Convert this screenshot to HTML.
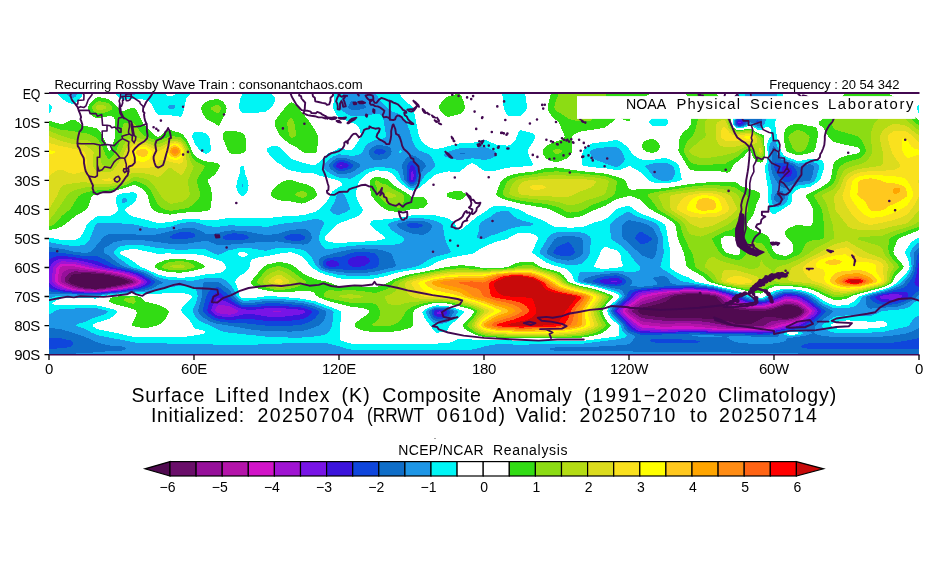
<!DOCTYPE html>
<html lang="en"><head><meta charset="utf-8"><title>Surface Lifted Index Composite Anomaly</title>
<style>
html,body{margin:0;padding:0;background:#fff;overflow:hidden}
body{width:930px;height:580px;position:relative;overflow:hidden;font-family:"Liberation Sans",sans-serif;color:#000}
svg{position:absolute;left:0;top:0}
#tx{position:absolute;left:0;top:0;width:930px;height:580px;will-change:transform;opacity:.999}
.t{position:absolute;white-space:nowrap;line-height:1;margin:0;padding:0}
.s{font-size:13.1px}
.y{font-size:15px;width:40px;text-align:right;left:0;letter-spacing:-0.3px}
.x{font-size:15px;width:60px;text-align:center;letter-spacing:-0.3px}
.w{left:0;width:930px;height:1em}
.w span{position:absolute;top:0}
.c{font-size:14px;width:40px;text-align:center}
</style></head><body>
<svg width="930" height="580" viewBox="0 0 930 580">
<defs><clipPath id="m"><rect x="49" y="93" width="870" height="262"/></clipPath></defs>
<g clip-path="url(#m)" shape-rendering="crispEdges">
<path fill="#32dc14" d="M456.0,94.2 459.0,93.5 460.0,94.1 461.5,96.3 463.2,100.3 464.6,105.3 464.9,107.3 464.4,109.3 462.2,112.3 460.0,113.9 449.0,116.9 447.0,116.7 443.9,114.3 440.0,110.3 438.8,108.3 438.9,106.3 441.9,101.3 446.0,97.4 449.0,96.0ZM551.0,93.3 651.4,93.3 645.5,96.3 642.0,99.4 640.2,102.3 637.6,108.3 630.0,120.1 629.0,121.1 628.0,121.2 620.0,118.2 617.0,117.9 615.0,119.1 609.7,124.3 605.0,127.5 601.0,128.4 581.0,131.4 578.0,132.4 574.5,134.3 573.0,135.6 572.0,137.3 572.2,150.3 571.8,152.3 570.0,155.7 569.0,157.0 567.0,158.4 558.0,162.0 556.0,162.3 551.0,160.9 546.0,158.3 544.0,155.8 542.5,152.3 542.5,151.3 543.2,149.3 546.0,146.2 553.0,142.5 562.1,139.3 564.0,138.0 564.8,136.3 559.2,123.3 557.5,121.3 551.9,116.3 549.7,113.3 547.7,109.3 547.6,106.3ZM686.0,93.3 716.0,93.3 718.4,96.3 725.0,102.1 726.5,104.3 730.1,113.3 730.5,116.3 730.8,123.3 732.1,126.3 734.0,128.2 737.0,129.8 739.0,130.1 742.0,129.9 748.0,128.6 751.0,128.8 758.0,133.1 763.0,134.7 764.0,135.8 764.5,137.3 764.4,145.3 765.2,152.3 764.5,157.3 762.9,161.3 762.0,162.3 760.0,162.7 756.0,161.1 753.4,158.3 751.0,151.9 750.0,151.0 749.0,150.9 746.8,152.3 744.9,155.3 743.0,157.3 734.1,164.3 732.6,166.3 730.3,171.3 728.0,172.6 726.0,172.6 718.0,171.0 713.0,170.5 701.0,171.1 696.0,170.9 691.0,170.0 689.0,168.8 679.1,152.3 678.4,150.3 678.9,142.3 679.8,137.3 682.6,133.3 689.0,127.1 690.7,124.3 691.4,122.3 691.5,110.3 691.1,106.3 689.6,101.3 685.7,93.3ZM844.0,93.8 844.2,93.3 887.7,93.3 890.0,94.7 897.0,97.7 903.7,102.3 906.0,104.5 909.0,109.3 915.5,117.3 919.0,120.5 919.0,230.3 900.9,237.3 898.0,239.3 896.8,241.3 894.0,248.5 893.4,251.3 893.6,253.3 894.8,255.3 902.3,264.3 903.5,266.3 903.6,267.3 903.0,268.3 896.0,275.4 892.0,282.4 889.0,284.7 884.0,287.0 853.7,295.3 846.0,299.0 837.0,300.1 834.0,300.0 825.0,296.1 818.0,292.2 813.0,290.0 808.0,288.5 799.0,286.9 786.0,286.0 774.0,286.5 769.0,288.6 763.0,292.8 761.0,293.7 750.0,292.0 743.0,289.9 725.0,286.3 710.4,282.3 708.1,281.3 702.4,276.3 688.6,268.3 686.5,266.3 684.0,253.3 678.0,239.3 675.4,225.3 674.2,223.3 666.0,217.5 650.2,209.3 643.2,202.3 640.0,199.7 633.0,196.8 629.0,195.9 617.0,198.9 605.0,205.8 593.0,210.6 582.0,216.1 579.0,216.9 569.0,218.2 567.0,217.8 563.1,216.3 551.9,210.3 546.1,208.3 520.0,203.5 506.0,200.1 499.5,197.3 496.9,195.3 496.4,194.3 496.5,193.3 498.5,187.3 501.0,181.3 503.0,179.1 507.8,176.3 513.0,174.6 519.0,173.2 534.0,171.5 545.0,168.2 555.0,167.4 558.0,167.6 580.0,171.0 604.0,173.4 610.0,174.8 621.0,178.0 624.0,179.3 625.9,181.3 627.6,186.3 628.7,188.3 630.0,189.4 631.0,189.6 653.0,189.2 665.0,188.1 690.0,184.1 702.0,182.7 714.0,182.1 725.0,182.2 731.0,181.6 734.0,181.9 737.0,183.0 741.0,185.9 743.0,186.9 756.0,190.9 759.0,192.6 760.4,194.3 760.3,196.3 757.2,202.3 753.8,213.3 752.1,216.3 747.2,223.3 747.1,225.3 748.0,227.0 751.0,229.3 764.0,233.8 768.0,236.3 769.9,239.3 770.8,244.3 772.1,248.3 774.0,251.6 775.9,253.3 778.0,254.3 781.7,255.3 785.0,255.7 787.0,255.5 790.0,254.2 792.5,252.3 793.1,250.3 793.3,247.3 792.8,244.3 791.9,242.3 790.3,240.3 786.9,237.3 785.4,235.3 785.0,232.3 786.0,230.0 787.0,229.0 789.0,227.8 797.0,224.9 800.0,224.9 808.0,226.5 810.0,226.4 811.5,225.3 812.6,223.3 813.5,212.3 813.3,209.3 809.4,202.3 806.1,197.3 805.6,196.3 805.7,195.3 807.0,194.3 812.0,192.3 818.0,189.1 826.0,184.1 829.5,181.3 831.0,178.3 833.1,165.3 834.0,163.0 836.0,160.6 840.0,158.1 845.0,155.9 858.0,153.4 859.6,152.3 860.1,151.3 860.1,150.3 859.0,148.4 857.0,147.0 846.0,145.0 836.0,142.6 833.0,141.4 830.4,139.3 828.7,137.3 823.0,127.6 822.0,126.6 819.4,125.3 818.7,124.3 818.9,122.3 819.6,121.3 824.0,117.9 833.0,107.0 840.0,99.7ZM724.4,236.3 721.3,238.3 720.7,240.3 721.9,246.3 724.0,250.4 726.0,252.3 730.0,254.0 737.0,255.2 739.0,254.5 740.4,252.3 740.5,248.3 739.7,243.3 738.0,240.0 735.0,237.4 732.1,236.3 727.0,235.7ZM98.0,97.1 104.0,98.0 109.0,99.4 112.0,101.7 116.9,106.3 120.0,110.5 121.0,111.2 123.0,111.2 132.0,107.7 134.0,107.7 135.3,108.3 137.0,110.6 143.0,123.3 153.5,134.3 156.0,136.3 158.0,136.8 159.6,136.3 166.6,131.3 170.0,130.0 180.0,132.9 182.0,133.8 184.0,135.9 187.8,141.3 193.0,153.2 195.0,156.0 199.0,158.6 205.0,161.3 215.0,162.6 217.4,163.3 218.9,164.3 219.5,165.3 219.5,167.3 217.6,171.3 214.0,175.2 208.5,179.3 207.7,180.3 207.6,181.3 210.5,187.3 212.0,194.3 211.1,207.3 210.0,209.3 208.0,210.5 205.0,211.3 183.0,212.7 170.0,214.6 165.0,214.0 158.0,212.5 153.4,210.3 151.3,208.3 149.5,203.3 147.7,195.3 145.0,191.4 142.0,188.7 139.0,186.8 135.0,185.1 133.0,185.0 126.0,187.6 110.0,192.0 98.0,193.7 93.2,195.3 91.5,197.3 87.5,208.3 85.7,210.3 76.0,215.6 65.3,224.3 62.2,226.3 57.0,228.5 49.0,230.1 49.0,121.0 52.0,121.4 61.0,124.3 64.9,123.3 72.0,119.6 74.0,119.6 76.0,120.6 80.9,124.3 84.0,125.8 94.0,127.7 97.0,128.6 99.0,130.3 101.0,133.1 105.5,142.3 108.0,148.9 109.0,150.7 110.0,150.8 111.0,149.3 115.4,136.3 115.4,122.3 114.4,118.3 113.0,116.8 110.0,116.0 99.0,118.2 96.0,118.1 93.0,116.6 91.0,115.0 89.1,112.3 88.0,109.3 88.3,106.3 90.7,102.3 95.0,98.4ZM216.0,99.2 219.0,99.3 223.0,101.7 225.8,105.3 226.6,108.3 225.6,112.3 223.5,117.3 219.1,125.3 218.0,125.7 214.4,123.3 208.0,120.2 206.0,118.8 203.0,114.2 201.5,110.3 201.1,108.3 202.5,105.3 206.0,101.7 209.0,100.6ZM289.0,103.2 291.0,102.4 292.0,102.5 295.0,104.1 297.0,105.8 301.7,112.3 308.0,119.4 316.4,132.3 318.0,136.3 318.0,139.3 317.2,150.3 316.1,152.3 315.0,153.2 312.0,153.4 304.0,152.5 302.0,151.8 297.0,147.4 290.0,144.1 282.3,138.3 280.3,136.3 277.4,131.3 274.6,124.3 274.5,122.3 274.8,121.3 278.0,116.4 282.4,111.3 286.0,106.3ZM809.0,104.0 810.0,104.1 811.0,105.2 811.8,107.3 811.4,110.3 810.0,112.1 808.0,112.3 805.0,111.7 802.0,110.6 800.3,109.3 800.2,108.3 801.5,107.3ZM794.0,124.3 797.0,123.7 800.0,123.7 810.0,126.2 815.0,126.8 817.0,127.8 817.6,131.3 817.6,137.3 815.2,149.3 814.0,151.3 810.0,153.0 799.0,155.5 797.0,155.3 788.4,152.3 786.6,151.3 785.7,149.3 783.6,137.3 784.4,132.3 785.9,128.3 787.0,126.9 789.0,125.8ZM226.0,131.1 230.0,130.5 235.7,131.3 241.0,132.4 244.0,134.4 245.3,136.3 245.8,139.3 245.7,150.3 244.4,152.3 243.0,153.1 241.0,153.6 233.0,153.7 231.0,153.6 229.0,152.4 227.4,149.3 222.6,137.3 222.6,135.3 223.2,133.3 224.0,132.2ZM650.0,139.2 653.0,139.1 655.0,139.8 657.2,141.3 659.0,143.3 659.7,145.3 659.7,147.3 659.0,149.3 657.2,151.3 654.0,152.7 651.0,152.7 645.5,151.3 643.1,149.3 642.2,147.3 642.0,145.3 643.0,142.5 646.0,140.3ZM374.0,177.2 377.0,176.7 387.0,179.0 393.8,185.3 408.5,194.3 412.0,197.5 420.0,196.6 422.0,196.8 424.0,197.6 426.0,199.3 427.3,201.3 427.6,203.3 427.3,204.3 425.0,207.0 422.0,208.3 412.0,209.0 400.0,212.0 397.0,212.0 391.0,211.1 388.0,210.4 385.3,209.3 382.0,207.1 377.8,203.3 372.5,197.3 370.8,194.3 370.2,188.3 370.0,181.3 371.2,179.3ZM287.0,180.2 290.0,179.7 292.0,180.0 299.0,182.5 306.2,184.3 311.0,186.3 313.0,187.6 315.0,189.6 316.8,193.3 316.8,195.3 315.0,197.5 312.0,199.5 305.0,202.9 302.0,203.6 290.0,201.4 279.0,200.3 275.0,198.8 271.3,196.3 270.5,195.3 270.5,193.3 272.4,190.3 275.0,187.2 280.0,183.3 283.7,181.3ZM455.0,191.2 459.0,190.9 461.2,191.3 465.0,193.3 465.9,194.3 466.1,195.3 465.0,197.0 463.0,198.6 461.0,199.7 459.0,200.1 450.0,198.0 447.1,196.3 446.6,195.3 446.7,194.3 448.0,192.8 450.0,192.0ZM170.0,259.2 183.0,259.1 193.0,260.3 196.4,261.3 201.0,263.3 205.1,266.3 205.0,267.3 201.0,268.9 193.0,270.8 184.0,272.4 180.0,272.6 171.0,272.4 168.0,272.0 158.0,269.4 154.9,267.3 154.7,266.3 155.2,265.3 158.0,263.0 164.0,260.5ZM277.0,262.2 281.0,262.1 290.0,263.8 293.0,265.5 303.0,273.3 309.0,276.5 316.0,279.3 328.0,282.0 337.0,285.6 340.0,286.1 362.0,286.5 374.0,287.4 377.0,287.0 385.0,284.1 393.7,279.3 404.0,275.7 411.0,274.0 424.0,271.8 448.0,266.7 461.0,265.2 471.0,265.9 484.0,268.1 500.0,268.0 507.0,267.2 510.0,266.3 515.0,263.5 520.0,262.1 528.0,261.6 532.0,261.8 534.0,262.6 539.5,266.3 543.0,267.9 555.0,270.7 560.0,272.7 563.6,275.3 567.9,281.3 570.0,282.7 579.0,285.5 595.0,289.1 609.0,294.1 612.0,295.6 612.8,296.3 612.8,297.3 607.2,303.3 603.1,309.3 602.4,311.3 602.9,313.3 605.3,318.3 607.2,321.3 610.5,325.3 610.5,326.3 609.0,327.9 603.4,332.3 600.0,334.0 593.0,335.8 581.0,337.7 543.0,338.3 497.0,337.6 483.0,336.7 476.0,335.0 468.4,331.3 465.0,329.1 462.6,326.3 462.5,325.3 463.7,323.3 471.0,316.2 473.4,313.3 474.0,312.3 474.1,311.3 473.2,310.3 467.6,308.3 450.0,303.9 446.0,303.3 436.0,302.9 429.0,304.1 421.0,306.5 416.8,308.3 414.2,310.3 413.6,311.3 413.2,313.3 413.4,324.3 412.5,326.3 410.0,327.9 400.0,330.7 388.0,332.2 375.0,332.2 364.0,330.9 361.0,330.0 357.4,328.3 354.9,326.3 354.5,325.3 355.4,323.3 357.5,321.3 366.0,315.3 369.0,312.3 369.2,311.3 368.6,310.3 366.0,308.9 362.0,307.9 351.0,306.9 327.0,300.6 318.7,297.3 316.0,295.3 314.0,292.7 311.0,291.5 303.0,290.6 290.0,292.0 277.0,292.2 263.0,289.8 259.0,288.8 255.6,287.3 251.8,284.3 250.7,282.3 251.0,281.3 263.0,267.1 267.0,264.6ZM119.0,296.3 133.0,295.5 138.0,296.3 140.3,297.3 144.0,300.7 146.0,301.8 158.0,304.8 165.0,307.9 168.4,310.3 168.9,311.3 168.6,313.3 166.5,317.3 163.2,321.3 161.0,323.3 157.2,325.3 151.0,327.2 146.0,328.1 139.0,327.4 133.7,326.3 132.1,325.3 131.8,324.3 135.1,318.3 136.3,315.3 136.9,312.3 135.9,310.3 130.0,307.9 120.0,305.6 112.1,303.3 110.1,302.3 109.3,301.3 109.2,300.3 110.1,298.3 112.3,297.3Z"/>
<path fill="#8cdc14" d="M559.0,93.3 606.9,93.3 606.0,96.1 604.8,104.3 604.1,106.3 602.5,107.3 596.0,108.5 594.0,109.4 593.3,111.3 592.1,119.3 591.6,120.3 588.0,121.2 582.0,121.6 579.2,121.3 569.0,119.2 563.7,115.3 557.0,111.4 555.7,110.3 554.4,108.3 554.3,106.3 556.0,100.6ZM99.0,101.3 105.0,102.1 109.0,103.7 110.9,105.3 112.2,107.3 112.2,108.3 111.8,109.3 109.0,111.3 104.0,112.9 99.0,113.5 96.0,112.9 93.1,110.3 92.2,108.3 92.1,107.3 93.0,105.3 95.0,103.0 97.0,101.6ZM710.0,103.3 712.0,103.2 714.0,103.7 719.1,107.3 724.0,109.5 726.0,110.9 728.2,115.3 729.4,122.3 730.3,125.3 732.0,127.8 734.0,129.5 737.0,130.9 739.0,131.1 748.0,129.9 751.0,130.2 757.0,134.1 761.0,136.2 762.0,137.1 762.8,139.3 764.2,151.3 763.4,156.3 762.0,159.1 761.0,159.6 760.0,159.4 758.0,158.3 755.3,155.3 752.7,150.3 751.0,148.7 749.0,148.3 744.1,150.3 738.0,156.3 725.0,163.9 714.0,164.4 701.0,165.5 694.0,163.8 690.0,161.9 688.0,159.2 684.1,152.3 683.8,150.3 684.6,147.3 687.0,142.0 692.2,136.3 694.5,132.3 696.1,127.3 698.9,114.3 700.0,111.1 702.0,107.3 704.0,104.9 706.0,104.0ZM881.0,103.3 884.0,103.2 893.0,104.4 896.0,105.5 901.0,109.5 907.0,113.5 915.0,122.3 919.0,125.5 919.0,226.7 897.0,234.6 891.2,237.3 889.0,239.3 888.6,241.3 888.4,249.3 888.8,253.3 890.6,256.3 897.4,264.3 898.6,266.3 898.7,267.3 898.3,268.3 894.6,272.3 893.2,274.3 890.7,281.3 890.0,282.3 887.3,284.3 884.0,285.9 852.3,294.3 846.0,296.3 835.0,297.4 832.0,296.5 815.0,288.7 809.0,287.0 801.0,285.7 787.0,284.7 774.0,284.4 768.0,286.3 761.0,290.0 751.0,289.9 726.0,285.5 715.3,282.3 712.3,280.3 709.9,277.3 706.6,274.3 698.3,269.3 695.7,267.3 694.9,265.3 692.8,254.3 689.0,247.7 683.8,236.3 682.0,231.4 680.3,225.3 679.2,223.3 670.0,216.6 657.7,209.3 653.0,202.1 647.8,196.3 647.5,195.3 648.4,194.3 651.0,193.3 657.0,191.9 689.0,186.9 700.0,185.6 715.0,185.2 730.0,186.2 735.0,187.5 745.9,194.3 746.9,195.3 747.8,197.3 748.2,200.3 748.5,209.3 747.2,212.3 744.0,217.3 735.0,227.6 732.0,229.4 723.0,232.3 715.4,236.3 712.5,238.3 712.1,239.3 712.4,240.3 719.4,252.3 722.0,254.8 726.0,257.0 736.0,259.9 739.0,259.9 742.5,258.3 745.0,255.7 746.1,253.3 748.0,245.9 749.0,243.8 750.0,242.7 752.0,242.3 760.0,242.7 762.0,243.3 764.0,245.3 770.1,255.3 772.0,257.5 774.0,258.9 777.0,259.6 784.0,259.9 786.0,259.8 789.0,258.8 797.3,255.3 800.6,253.3 802.0,251.3 804.6,245.3 806.0,243.6 808.0,242.0 812.0,240.5 821.8,239.3 823.5,238.3 824.1,237.3 824.0,224.3 822.2,210.3 821.4,208.3 814.6,197.3 814.3,196.3 814.4,195.3 816.9,193.3 829.0,186.8 833.3,183.3 835.3,180.3 836.8,173.3 838.0,169.7 839.4,167.3 841.3,165.3 847.0,161.9 859.0,158.8 863.0,155.8 865.6,152.3 865.9,151.3 865.7,149.3 864.0,144.4 861.7,140.3 859.0,137.3 856.0,135.7 836.0,130.0 834.0,128.4 831.5,124.3 831.0,122.3 831.4,121.3 834.0,118.3 841.0,113.9 847.0,108.3 849.0,107.9 870.0,107.3 876.0,104.4ZM216.0,105.1 218.0,105.0 218.8,105.3 220.7,107.3 220.9,108.3 220.3,110.3 219.0,112.3 218.0,113.1 217.0,113.2 214.0,111.5 211.1,109.3 210.7,108.3 211.2,107.3 212.0,106.8ZM290.0,117.9 291.0,117.6 292.0,118.5 294.3,122.3 296.2,134.3 295.7,136.3 293.9,137.3 292.0,137.7 290.0,137.0 289.0,135.3 287.1,123.3 287.6,121.3ZM124.0,123.2 131.0,122.4 133.0,122.8 135.0,124.7 140.1,131.3 144.1,135.3 148.0,137.3 157.0,140.5 160.0,140.2 169.0,136.5 171.0,136.0 179.0,137.0 181.0,137.6 183.3,139.3 185.7,142.3 187.4,145.3 189.6,150.3 191.7,156.3 193.3,159.3 196.0,161.6 203.4,165.3 204.5,166.3 204.6,167.3 204.0,168.3 199.5,175.3 197.1,180.3 197.6,184.3 200.3,194.3 200.0,196.3 198.0,199.8 193.0,205.0 189.0,207.4 185.0,208.5 172.0,210.6 170.0,210.7 167.4,210.3 162.4,208.3 158.0,204.6 155.9,201.3 152.0,192.6 149.7,189.3 146.8,186.3 144.1,184.3 141.0,182.8 136.0,181.3 134.0,181.1 127.0,184.5 121.0,186.6 109.0,189.5 97.0,190.5 91.0,191.3 86.0,192.5 81.3,194.3 78.6,196.3 70.0,209.3 62.0,215.9 55.8,223.3 52.4,225.3 49.0,226.4 49.0,126.0 61.0,130.0 71.0,130.7 78.0,132.1 86.0,133.2 90.0,134.6 95.0,137.1 97.0,138.5 99.3,141.3 102.6,147.3 106.0,155.8 107.8,158.3 109.0,159.0 110.0,158.7 111.0,157.8 115.2,152.3 116.3,150.3 121.7,136.3 122.7,125.3 123.0,124.0ZM797.0,130.2 800.0,130.3 804.3,132.3 808.5,135.3 809.6,137.3 809.4,139.3 808.1,143.3 805.3,149.3 804.2,150.3 802.3,151.3 799.0,152.2 795.6,151.3 793.3,149.3 790.0,142.3 788.4,137.3 789.3,135.3 791.0,133.7 794.0,131.6ZM556.0,149.0 558.0,148.9 559.9,149.3 562.1,150.3 562.6,151.3 561.6,152.3 559.6,153.3 557.0,154.1 556.0,154.0 554.0,152.9 553.3,152.3 553.0,151.3 553.6,150.3ZM544.0,172.2 557.0,171.3 596.0,175.1 604.0,176.0 607.0,176.8 614.0,179.3 615.7,180.3 616.5,181.3 616.6,184.3 615.1,193.3 613.6,195.3 606.0,199.8 592.0,204.9 582.0,210.8 579.0,211.6 570.0,212.6 567.0,212.0 560.0,208.0 555.0,206.1 545.0,203.9 532.0,202.4 519.0,200.4 507.0,197.4 504.0,195.8 502.7,194.3 503.2,191.3 505.8,184.3 507.5,181.3 510.2,179.3 515.0,177.4 520.0,176.0 534.0,174.3ZM376.0,180.3 378.8,181.3 382.0,183.6 387.0,184.8 392.0,188.5 400.0,192.2 404.2,195.3 404.5,197.3 403.7,201.3 402.1,205.3 400.8,207.3 399.0,208.1 398.0,207.9 393.0,205.9 388.0,204.6 385.0,202.8 381.0,199.0 378.8,196.3 377.8,194.3 376.8,188.3 374.7,182.3 375.0,180.9ZM301.0,191.0 303.0,191.0 305.6,192.3 307.4,194.3 307.3,195.3 304.5,197.3 302.0,197.9 298.0,196.6 295.6,195.3 295.2,194.3 295.9,193.3 298.0,192.1ZM178.0,261.3 183.0,261.4 188.2,262.3 192.9,264.3 194.7,266.3 194.1,267.3 192.0,268.3 187.0,269.6 181.0,270.4 170.0,270.1 164.0,268.5 161.9,267.3 161.9,266.3 162.9,265.3 168.0,262.5 171.0,261.8ZM524.0,265.3 532.0,265.3 542.3,269.3 555.0,272.7 560.0,275.3 562.2,277.3 565.4,281.3 568.3,283.3 577.0,286.0 594.0,290.1 605.2,294.3 609.0,296.3 609.2,297.3 608.6,298.3 600.9,308.3 599.3,311.3 599.8,313.3 601.0,316.0 605.5,324.3 605.8,325.3 605.4,326.3 600.0,330.5 595.0,333.0 588.0,334.9 580.0,336.2 557.0,337.1 533.0,337.1 497.0,336.5 484.0,335.4 479.8,334.3 476.0,332.7 469.0,327.7 467.6,326.3 467.3,325.3 467.7,324.3 472.0,319.6 477.3,312.3 477.5,311.3 476.8,310.3 471.0,307.6 456.0,303.7 448.0,302.2 436.0,301.5 429.4,302.3 419.3,304.3 413.5,306.3 406.7,310.3 405.1,312.3 403.0,316.7 400.7,320.3 399.0,322.0 395.0,324.3 392.4,325.3 387.0,326.5 375.0,326.3 372.3,325.3 372.3,324.3 376.3,321.3 378.2,319.3 379.5,316.3 380.2,312.3 379.9,310.3 378.9,308.3 377.0,305.8 375.0,304.0 373.0,303.4 367.0,302.9 350.0,302.7 328.0,298.2 325.5,297.3 324.1,296.3 323.6,295.3 323.8,294.3 325.0,292.2 326.0,291.2 328.0,290.4 339.0,290.6 352.0,290.2 363.0,291.1 374.0,292.9 376.0,292.9 387.0,289.3 390.0,287.2 393.3,283.3 395.7,281.3 403.0,278.3 413.0,275.5 447.0,269.1 460.0,268.2 472.0,268.6 484.0,269.6 499.0,269.2 509.6,268.3 514.9,267.3 520.0,265.7ZM277.0,266.3 279.0,266.1 282.0,266.7 290.0,269.7 302.0,278.8 306.0,281.3 306.6,282.3 305.7,283.3 296.0,287.4 287.1,289.3 279.0,290.2 273.0,289.3 265.0,287.2 260.6,285.3 257.9,283.3 257.3,282.3 257.7,280.3 266.0,270.1 269.4,268.3ZM131.0,297.3 133.4,297.3 135.0,298.3 135.7,301.3 135.6,302.3 134.7,303.3 133.0,303.7 130.7,303.3 125.1,301.3 124.2,300.3 124.2,299.3 125.5,298.3Z"/>
<path fill="#b4dc14" d="M98.0,105.0 101.0,104.7 104.0,105.4 106.0,106.7 106.4,107.3 106.1,108.3 103.0,109.7 100.0,110.1 98.0,109.9 96.8,109.3 96.0,108.3 95.9,107.3 97.0,105.5ZM714.0,115.1 723.0,114.9 725.0,115.4 726.0,116.4 727.0,118.5 728.6,124.3 730.0,127.3 732.0,129.5 735.0,131.5 739.0,132.3 748.0,131.2 750.0,131.3 753.0,132.7 757.8,136.3 760.4,139.3 762.0,144.4 763.2,151.3 762.9,153.3 762.0,155.6 761.0,156.3 759.0,155.4 757.1,153.3 754.0,148.0 752.0,146.6 750.0,146.0 747.0,146.4 743.0,147.7 736.0,152.2 724.0,155.4 712.0,157.4 703.0,158.4 701.0,158.3 694.0,155.5 690.2,153.3 689.1,151.3 690.0,149.2 701.0,139.9 705.1,137.3 705.8,135.3 704.6,125.3 704.9,122.3 706.4,120.3 709.0,118.1 712.0,115.9ZM888.0,115.2 893.0,114.4 895.0,114.5 900.4,117.3 906.0,119.5 915.9,128.3 919.0,130.5 919.0,221.2 914.8,224.3 910.2,226.3 893.0,231.3 883.0,235.5 881.0,235.9 861.0,237.0 858.9,237.3 857.5,238.3 858.0,239.3 860.0,240.2 877.7,245.3 881.0,247.0 882.0,248.2 885.1,255.3 891.8,263.3 893.7,266.3 893.9,267.3 893.5,268.3 891.3,271.3 890.3,273.3 888.9,280.3 887.8,282.3 885.0,284.2 882.0,285.5 859.0,291.6 846.0,294.4 835.0,294.8 832.0,293.9 820.0,288.2 812.0,285.8 800.0,284.1 781.0,282.7 778.4,282.3 774.0,280.8 761.0,286.3 752.0,287.6 738.0,286.4 726.0,284.4 721.9,283.3 717.7,281.3 716.9,280.3 715.4,276.3 714.0,274.3 711.0,271.6 705.0,267.3 704.6,266.3 704.7,265.3 707.0,260.9 710.0,257.9 713.0,256.7 714.0,257.0 719.0,260.1 722.0,261.3 731.0,263.9 741.0,266.2 750.0,269.2 755.0,268.7 758.6,267.3 759.5,266.3 761.0,260.4 762.0,260.6 764.4,265.3 770.4,269.3 773.0,273.6 774.0,274.3 775.4,269.3 777.0,267.3 780.0,266.0 787.0,264.2 798.0,259.6 809.2,253.3 816.0,247.8 824.0,244.2 832.6,239.3 833.8,238.3 834.3,236.3 832.6,224.3 830.3,217.3 827.1,205.3 825.3,201.3 822.0,196.3 822.1,195.3 823.0,194.3 832.0,190.2 835.0,187.7 838.0,183.0 842.0,173.5 844.0,170.7 846.0,168.8 850.0,167.0 863.0,163.3 866.0,161.6 868.3,159.3 870.8,155.3 872.4,151.3 870.7,136.3 871.6,130.3 873.6,124.3 876.0,121.3 881.0,117.7 884.0,116.2ZM50.0,131.3 61.0,135.6 71.0,138.9 74.0,139.5 85.0,139.5 87.4,140.3 92.0,142.8 97.0,146.5 99.3,150.3 99.9,152.3 100.7,161.3 101.9,164.3 104.0,165.6 108.0,166.6 109.5,166.3 111.0,165.1 120.0,153.3 121.2,151.3 123.5,145.3 126.0,141.5 129.0,138.9 133.0,136.8 134.0,136.8 139.0,138.3 146.0,139.8 158.0,144.0 161.0,143.2 169.0,139.6 171.0,139.0 176.0,138.9 180.0,139.9 183.0,142.0 185.8,146.3 187.9,151.3 190.0,160.1 193.5,166.3 193.5,167.3 192.4,170.3 187.9,180.3 187.9,182.3 189.7,193.3 189.4,195.3 188.1,197.3 186.1,199.3 182.0,201.9 172.0,203.6 170.0,203.6 166.3,201.3 161.1,196.3 154.0,185.4 150.0,181.2 147.0,179.4 145.0,178.7 137.9,177.3 134.0,177.0 132.0,177.8 129.0,180.3 125.8,182.3 120.0,184.4 109.0,186.8 85.0,187.5 77.1,189.3 72.0,191.2 69.0,193.2 67.0,195.3 56.3,211.3 51.0,218.1 49.0,220.0 49.0,131.0ZM798.0,137.2 798.5,137.3 798.0,138.4ZM552.0,175.3 557.0,175.1 580.0,176.2 595.0,177.5 605.9,179.3 607.9,180.3 608.7,181.3 608.8,182.3 606.0,191.8 605.2,193.3 604.0,194.5 599.8,196.3 586.6,200.3 580.0,203.3 570.0,205.5 568.0,205.3 560.0,202.4 550.0,200.6 520.0,197.8 513.0,196.0 510.9,195.3 509.4,194.3 509.1,193.3 509.3,192.3 510.5,188.3 511.9,185.3 514.9,181.3 518.0,179.5 521.0,178.6 526.0,177.9 545.0,175.7ZM701.0,188.2 716.0,188.3 727.0,189.9 733.0,191.7 737.0,194.3 738.7,196.3 741.4,202.3 742.9,208.3 742.0,211.3 738.9,215.3 735.0,219.0 728.0,224.6 714.0,231.5 702.0,236.4 700.0,236.6 692.0,235.0 690.0,234.1 689.1,233.3 687.3,230.3 684.8,224.3 683.2,222.3 679.0,218.9 664.5,209.3 663.2,207.3 658.4,196.3 658.8,195.3 660.4,194.3 665.0,193.1 690.0,189.5ZM386.0,192.1 387.0,191.7 389.0,192.0 396.3,195.3 396.2,196.3 393.9,197.3 390.0,198.1 387.0,197.9 385.2,196.3 384.6,195.3 384.9,193.3ZM173.0,265.3 181.0,264.4 184.0,265.2 185.3,266.3 184.6,267.3 181.0,268.1 170.7,267.3 170.3,266.3ZM518.0,268.2 523.0,267.6 532.0,267.7 551.0,273.1 555.0,274.7 557.9,276.3 564.1,282.3 567.8,284.3 575.0,286.5 593.0,291.0 601.7,294.3 605.3,296.3 605.7,297.3 605.3,298.3 597.1,309.3 596.3,311.3 597.0,314.3 601.7,324.3 601.7,325.3 601.2,326.3 596.0,329.8 590.0,332.3 582.0,334.4 574.0,335.2 556.0,336.0 522.0,336.0 497.0,335.3 486.3,334.3 482.0,333.4 478.0,331.6 474.6,329.3 472.0,326.3 471.7,325.3 472.5,323.3 476.4,317.3 480.6,312.3 480.9,311.3 480.4,310.3 479.0,309.3 473.0,306.6 460.0,303.0 452.0,301.4 447.0,300.7 437.0,300.2 413.0,301.9 405.0,303.1 399.0,305.0 394.0,304.9 390.0,304.4 388.0,303.4 384.9,298.3 384.7,297.3 385.6,296.3 392.0,293.5 395.0,291.3 397.0,288.7 399.3,283.3 400.1,282.3 405.0,279.8 414.0,277.2 435.0,272.7 448.0,270.6 461.0,270.0 485.0,270.9 506.0,269.6ZM278.0,270.3 280.0,270.5 282.3,271.3 289.0,274.8 296.0,280.3 296.7,281.3 296.7,282.3 294.0,284.1 289.0,285.9 283.8,287.3 279.0,288.1 275.0,287.4 268.0,285.4 265.0,284.1 262.7,282.3 262.5,281.3 262.9,280.3 267.2,275.3 272.3,272.3ZM350.0,294.2 359.4,295.3 362.8,296.3 362.1,297.3 361.0,297.5 351.0,298.8 340.6,297.3 338.2,296.3 340.1,295.3Z"/>
<path fill="#dcdc1e" d="M723.0,120.1 725.0,120.4 725.7,121.3 728.8,128.3 732.0,131.6 735.0,133.1 738.0,133.8 748.0,132.6 751.0,133.1 754.4,135.3 756.3,137.3 756.9,139.3 756.8,142.3 756.0,143.3 755.0,143.6 744.1,144.3 736.0,146.5 725.0,146.9 722.0,146.4 720.0,145.5 718.0,143.5 716.6,140.3 715.5,133.3 715.6,128.3 716.4,124.3 717.6,122.3 720.0,120.9ZM893.0,124.2 896.0,123.9 905.0,125.4 907.0,126.1 916.0,133.5 919.0,135.5 919.0,210.0 909.5,221.3 908.0,222.6 906.0,223.6 892.0,226.5 882.0,229.3 872.0,230.5 858.0,229.7 851.0,228.3 848.0,226.3 835.5,210.3 834.8,207.3 834.2,197.3 834.6,195.3 839.8,188.3 844.4,177.3 846.0,175.1 848.1,173.3 853.0,170.8 858.0,169.1 877.8,166.3 881.3,165.3 882.4,164.3 882.7,162.3 882.5,151.3 879.8,139.3 879.7,136.3 881.8,132.3 885.0,128.6 888.2,126.3ZM49.7,136.3 59.0,140.3 67.0,142.6 73.0,144.0 85.0,145.4 91.0,149.1 93.0,151.0 93.6,152.3 93.0,164.3 93.5,167.3 95.3,170.3 98.0,171.9 109.0,172.4 111.0,171.8 113.0,170.5 122.4,157.3 125.8,149.3 127.5,146.3 131.0,142.6 134.0,141.2 146.0,142.5 156.0,146.9 158.0,147.5 163.0,145.7 169.0,142.0 171.0,141.2 176.0,140.8 180.0,142.1 181.8,143.3 183.0,144.8 185.7,150.3 186.1,152.3 186.9,166.3 185.6,169.3 183.3,173.3 182.0,174.6 181.0,174.8 178.0,173.2 171.5,168.3 170.0,167.6 168.0,168.7 161.0,175.6 158.0,177.3 152.0,174.9 147.0,173.7 134.0,172.7 131.0,173.4 128.0,175.2 123.8,180.3 122.2,181.3 111.0,183.8 108.0,184.1 97.0,183.9 84.0,182.1 70.0,183.7 65.0,184.7 62.0,186.1 60.9,187.3 59.2,190.3 56.8,196.3 51.0,206.0 49.0,208.6 49.0,136.1ZM759.0,148.2 760.0,147.5 761.0,148.5 761.8,151.3 761.0,152.8 760.0,152.5 759.0,151.3ZM541.0,179.3 556.0,178.8 582.0,179.0 593.9,180.3 596.1,181.3 596.2,182.3 593.8,185.3 591.0,187.4 580.0,191.7 572.8,195.3 568.0,196.7 557.0,196.9 545.0,196.0 532.0,195.8 522.0,194.7 520.3,194.3 519.0,193.3 518.1,190.3 518.1,187.3 519.7,184.3 522.0,182.4 524.6,181.3 529.0,180.2ZM697.0,191.2 703.0,190.8 714.0,191.0 723.0,192.7 728.1,194.3 730.8,196.3 733.8,201.3 737.0,208.3 736.5,210.3 732.3,214.3 726.0,219.0 713.0,225.6 701.0,228.2 692.0,224.7 690.0,223.6 684.0,218.0 673.2,211.3 670.8,209.3 670.1,207.3 669.7,197.3 670.0,196.3 671.8,195.3 675.9,194.3ZM846.0,241.2 848.0,241.6 850.0,242.6 859.0,248.2 869.0,253.4 882.0,258.3 885.0,260.8 887.7,264.3 888.6,267.3 887.0,272.3 886.7,280.3 885.7,282.3 882.0,284.4 860.0,290.2 847.0,292.6 844.0,292.8 834.0,292.1 822.0,286.4 815.0,284.4 810.0,283.4 791.1,281.3 788.2,280.3 788.0,279.3 789.4,275.3 790.7,269.3 792.3,267.3 799.0,263.9 808.0,258.4 816.4,254.3 833.0,244.9 836.0,243.7ZM519.0,269.2 532.0,269.1 548.0,273.7 552.3,275.3 556.0,277.3 561.8,282.3 567.0,285.2 573.0,287.0 592.0,291.9 598.5,294.3 602.0,296.3 602.5,297.3 602.2,298.3 594.1,309.3 593.3,311.3 594.0,314.6 598.0,324.3 597.9,325.3 597.2,326.3 595.0,327.8 591.0,329.7 582.0,332.6 576.0,333.5 564.0,334.5 546.0,335.0 518.0,334.9 496.0,334.1 485.0,332.7 482.0,331.8 478.0,329.6 475.2,327.3 474.3,325.3 474.9,323.3 477.5,319.3 484.6,311.3 484.1,310.3 482.7,309.3 478.0,306.9 472.0,304.7 460.0,301.4 454.0,300.3 447.0,299.3 437.0,298.8 423.0,299.1 415.0,297.8 411.3,296.3 408.2,294.3 406.5,291.3 405.5,287.3 405.3,283.3 405.9,282.3 408.0,281.0 414.0,279.1 437.0,273.9 450.0,272.1 461.0,271.6 484.0,272.1ZM725.0,270.0 727.0,269.8 738.0,270.6 753.9,275.3 757.0,276.6 759.0,278.0 760.9,280.3 761.0,281.3 760.4,282.3 758.0,283.6 750.0,285.5 738.0,285.1 725.0,282.9 721.8,281.3 721.3,279.3 721.8,275.3 722.7,272.3 724.0,270.6ZM276.0,275.2 279.0,274.4 282.0,275.6 286.0,278.1 288.7,280.3 289.3,281.3 289.0,282.3 285.4,284.3 279.0,285.9 277.0,285.7 273.0,284.5 268.3,282.3 267.9,281.3 269.5,279.3Z"/>
<path fill="#fae11e" d="M724.0,127.1 725.0,127.2 730.0,133.2 733.0,134.8 738.0,135.6 747.0,134.2 750.0,134.2 752.0,135.1 753.4,136.3 754.0,137.3 754.0,138.3 753.6,139.3 752.0,140.7 749.0,141.4 736.0,140.9 728.0,141.1 725.0,140.6 721.9,138.3 720.9,136.3 720.6,134.3 721.3,130.3 722.5,128.3ZM894.0,130.9 897.0,130.5 905.0,131.1 907.0,131.7 911.6,135.3 917.0,141.0 919.0,142.3 919.0,178.1 918.3,181.3 919.0,186.5 919.0,195.9 915.0,203.7 912.0,208.6 908.0,213.6 905.0,215.8 898.7,218.3 891.0,220.7 873.0,224.6 869.0,224.7 862.0,223.0 858.0,220.9 852.6,215.3 846.6,206.3 843.3,199.3 842.4,195.3 844.9,188.3 846.6,181.3 848.0,179.0 851.0,176.6 855.0,174.2 859.0,172.6 871.0,171.0 884.0,170.7 894.0,169.9 897.0,168.8 899.2,167.3 900.0,166.3 899.8,164.3 893.5,155.3 891.8,152.3 887.7,138.3 888.0,136.3 888.6,135.3 891.0,132.9ZM50.0,143.1 59.0,145.7 80.0,150.1 84.0,151.5 85.0,152.5 85.7,154.3 87.1,163.3 87.2,166.3 86.0,169.8 85.0,170.9 83.0,171.8 76.0,173.6 73.0,173.9 68.0,172.5 62.0,169.8 60.0,169.5 57.0,170.5 54.0,172.1 49.0,176.2 49.0,142.8ZM171.0,143.1 175.0,142.3 178.0,142.9 181.0,144.8 183.0,147.6 184.3,151.3 184.3,154.3 183.0,160.5 182.0,162.6 181.0,163.4 179.0,163.6 175.0,163.2 166.0,160.7 160.0,160.0 159.0,160.4 157.0,165.4 155.7,166.3 151.9,167.3 145.0,168.0 131.0,168.3 125.0,167.7 123.7,167.3 123.2,166.3 125.9,162.3 126.8,160.3 128.2,152.3 128.8,150.3 131.0,147.3 133.3,145.3 135.0,144.7 139.0,144.5 146.0,145.0 150.0,146.8 158.0,151.3 159.0,151.1 163.0,149.0 168.9,144.3ZM102.0,179.3 109.0,178.3 112.5,179.3 112.0,180.3 108.0,181.0 102.0,180.3ZM532.0,185.3 536.0,184.6 541.0,184.9 545.3,186.3 545.8,187.3 544.5,188.3 541.0,189.4 537.0,189.7 533.0,189.5 530.5,188.3 530.0,187.3 530.5,186.3ZM700.0,193.3 705.0,193.1 713.0,193.5 718.0,194.6 722.0,196.3 724.4,198.3 725.8,200.3 729.1,207.3 729.4,209.3 727.8,211.3 725.0,213.3 719.0,215.9 714.0,217.2 707.0,216.8 701.0,217.7 693.0,217.2 690.0,216.6 678.2,210.3 677.1,209.3 676.9,207.3 678.3,204.3 681.1,200.3 684.2,197.3 688.3,195.3ZM846.0,247.3 848.0,247.9 851.7,250.3 857.1,255.3 859.0,256.5 862.0,257.5 876.0,260.2 880.0,261.8 882.0,263.1 883.0,264.3 883.6,266.3 883.1,272.3 884.4,280.3 884.2,281.3 883.4,282.3 881.6,283.3 878.3,284.3 859.0,289.3 847.0,291.0 840.0,290.6 834.0,289.5 822.0,283.6 814.0,281.3 812.0,280.3 808.0,277.3 805.0,273.7 803.2,270.3 802.7,268.3 804.1,266.3 810.1,261.3 814.0,259.2 825.7,254.3 834.0,249.9ZM518.0,270.3 532.0,270.3 541.0,272.8 548.0,275.2 552.7,277.3 556.0,279.4 560.8,283.3 566.0,285.9 571.0,287.6 590.0,292.5 595.2,294.3 598.9,296.3 599.4,297.3 599.2,298.3 591.9,308.3 590.4,311.3 591.1,315.3 594.3,324.3 594.1,325.3 593.2,326.3 591.0,327.6 581.0,331.1 570.0,332.7 558.0,333.6 532.0,333.9 508.0,333.6 496.0,333.0 485.0,331.3 482.0,330.2 479.0,328.4 477.0,326.5 476.5,325.3 477.9,322.3 481.9,317.3 484.0,315.3 488.6,312.3 489.4,311.3 488.9,310.3 488.0,309.7 476.0,304.3 459.0,299.6 447.0,297.8 426.0,296.8 422.6,296.3 420.0,295.0 416.3,291.3 412.7,286.3 411.3,283.3 411.8,282.3 413.6,281.3 417.0,280.2 435.0,275.9 447.0,274.0 460.0,273.2 484.0,273.2 495.0,272.0ZM734.0,276.1 737.0,275.5 740.0,276.0 750.0,279.3 751.8,280.3 752.5,281.3 751.9,282.3 749.0,283.3 739.0,283.8 729.4,282.3 726.5,281.3 726.1,280.3 727.0,279.0 730.0,277.4ZM277.0,279.0 279.0,278.6 280.7,279.3 282.9,281.3 282.5,282.3 280.7,283.3 279.0,283.7 277.0,283.4 274.7,282.3 274.3,281.3 275.0,280.3Z"/>
<path fill="#ffff00" d="M746.0,136.2 748.0,135.7 750.0,135.9 750.9,136.3 751.4,137.3 751.0,138.3 749.0,139.1 745.1,138.3 743.9,137.3ZM904.0,138.2 906.0,138.3 907.0,139.4 909.4,144.3 912.0,147.1 915.0,148.8 919.0,149.9 919.0,154.7 908.0,158.0 907.0,157.8 906.0,156.9 902.9,152.3 902.2,150.3 902.2,139.3ZM173.0,144.0 176.0,143.9 179.0,145.1 181.2,147.3 182.7,150.3 182.8,153.3 181.9,156.3 180.5,158.3 178.0,159.7 175.0,160.0 171.0,158.9 167.5,156.3 165.4,153.3 165.2,151.3 166.5,149.3 170.0,145.5ZM138.0,147.3 143.0,146.8 146.0,147.2 149.8,149.3 152.0,151.3 152.3,153.3 151.6,155.3 150.0,158.0 148.0,160.1 145.0,161.6 141.0,161.7 135.0,160.8 133.3,159.3 131.9,155.3 131.7,151.3 133.0,149.3 134.0,148.6ZM50.0,150.2 54.7,151.3 55.9,152.3 53.8,153.3 49.0,154.5 49.0,150.1ZM866.0,175.2 870.0,174.7 874.0,174.8 898.0,176.7 904.0,177.9 906.0,179.2 907.0,180.4 910.9,186.3 913.1,193.3 912.8,196.3 910.0,201.3 907.0,205.4 904.0,207.6 897.1,211.3 890.0,214.3 883.0,216.5 872.0,217.9 869.0,217.3 863.0,213.7 858.5,209.3 852.3,200.3 850.2,196.3 849.8,194.3 852.0,182.3 852.9,180.3 855.2,178.3 858.0,176.7ZM698.0,196.2 702.0,195.4 707.0,195.4 713.0,196.2 715.9,197.3 718.6,199.3 720.1,201.3 722.1,207.3 722.1,209.3 721.2,210.3 719.0,211.6 716.0,212.8 713.0,213.4 700.0,213.6 692.5,212.3 687.7,210.3 686.7,209.3 686.5,208.3 690.1,201.3 693.3,198.3ZM844.0,254.3 846.2,254.3 852.0,259.7 856.0,261.9 859.0,262.4 869.0,262.5 872.8,263.3 874.8,264.3 875.6,265.3 875.8,266.3 875.5,269.3 876.0,271.3 881.0,278.8 881.6,280.3 881.4,281.3 880.2,282.3 877.7,283.3 860.0,288.0 847.0,289.3 841.0,288.7 835.0,287.3 826.9,283.3 825.5,282.3 824.4,280.3 824.6,272.3 824.0,270.6 822.4,269.3 816.7,267.3 815.9,266.3 816.2,263.3 817.8,261.3 819.3,260.3 824.0,258.4 834.0,255.7ZM516.0,271.2 522.0,271.0 531.0,271.3 538.0,273.0 545.0,275.4 550.0,277.7 554.0,280.0 559.9,284.3 565.0,286.8 570.0,288.4 588.0,293.0 593.0,294.8 595.9,296.3 596.4,297.3 596.1,298.3 589.1,308.3 587.6,311.3 588.0,315.3 590.1,323.3 590.0,325.3 586.8,327.3 580.0,329.6 569.0,331.4 556.0,332.5 523.0,332.8 508.0,332.5 496.0,331.9 486.0,330.1 483.0,329.1 480.2,327.3 479.0,325.9 479.0,324.3 481.0,321.3 484.0,318.1 493.4,312.3 494.3,311.3 493.9,310.3 492.5,309.3 478.0,303.2 461.0,298.4 448.0,296.1 436.0,294.8 430.0,293.3 427.0,292.1 424.0,290.3 420.1,286.3 418.2,283.3 418.7,282.3 420.6,281.3 427.5,279.3 436.0,277.3 447.0,275.6 460.0,274.8 483.0,274.5 496.0,272.7Z"/>
<path fill="#ffc81e" d="M174.0,145.3 176.0,145.3 178.3,146.3 180.2,148.3 181.4,151.3 181.2,153.3 180.0,155.5 178.0,157.1 176.0,157.8 174.0,157.7 171.0,156.3 169.0,154.3 168.0,152.3 168.2,150.3 170.0,147.6 172.0,146.0ZM141.0,149.1 145.0,149.2 147.0,150.1 148.2,151.3 148.2,153.3 146.0,156.2 144.0,156.9 141.0,156.7 138.0,155.3 136.2,153.3 135.9,152.3 136.2,151.3 138.0,150.0ZM865.0,179.2 870.0,178.4 873.0,178.6 880.7,180.3 887.0,183.0 896.0,183.6 901.0,185.0 903.5,186.3 905.6,188.3 907.1,192.3 907.3,195.3 906.8,196.3 905.0,197.9 896.0,203.2 889.0,206.1 884.0,209.8 881.0,210.5 871.0,210.5 869.0,209.1 866.8,204.3 865.0,201.6 863.0,199.7 859.0,197.1 858.0,195.9 857.4,194.3 858.1,183.3 858.6,181.3 860.0,180.2ZM703.0,198.3 709.0,198.5 712.0,199.3 713.8,200.3 714.7,201.3 715.5,203.3 715.7,207.3 715.0,209.3 712.0,210.3 702.0,210.7 699.5,210.3 697.2,209.3 696.4,208.3 696.2,207.3 696.7,202.3 698.2,200.3 699.6,199.3ZM834.0,259.3 837.0,259.6 839.9,260.3 841.5,261.3 841.7,262.3 840.7,263.3 838.4,264.3 834.0,265.1 827.9,264.3 825.8,263.3 825.4,262.3 826.1,261.3 828.4,260.3ZM855.0,270.3 859.0,270.1 862.0,270.5 866.0,271.6 869.0,272.9 872.0,274.8 875.0,277.4 877.3,280.3 877.3,281.3 876.2,282.3 873.7,283.3 860.0,286.9 847.0,287.7 842.0,287.0 836.0,285.3 831.9,283.3 830.1,281.3 830.4,279.3 832.0,276.5 834.0,274.3 836.0,273.0 839.0,271.9 844.0,270.9ZM511.0,272.3 523.0,271.9 531.0,272.3 535.0,273.2 541.2,275.3 548.0,278.3 558.9,285.3 563.0,287.3 569.0,289.3 585.4,293.3 591.1,295.3 592.8,296.3 593.4,297.3 593.1,298.3 586.3,308.3 584.8,311.3 584.9,314.3 586.2,323.3 585.7,325.3 582.1,327.3 577.0,328.6 568.0,330.2 555.0,331.4 522.0,331.8 508.0,331.4 496.0,330.7 486.0,328.7 483.0,327.5 481.5,326.3 481.0,325.3 482.0,323.0 484.0,320.9 486.0,319.4 495.0,314.3 499.6,312.3 500.9,311.3 500.5,310.3 489.0,305.3 478.0,301.4 450.0,293.5 435.0,290.3 429.0,287.2 426.6,285.3 425.0,283.3 425.4,282.3 430.2,280.3 436.0,278.9 447.0,277.2 460.0,276.4 483.0,276.0 496.0,273.5Z"/>
<path fill="#ffa500" d="M173.0,147.2 176.0,146.8 178.0,147.9 179.2,149.3 179.9,151.3 179.7,152.3 178.6,154.3 177.0,155.5 175.0,155.9 173.0,155.4 171.0,153.8 170.0,152.3 169.9,151.3 170.6,149.3ZM894.0,188.2 896.0,187.5 899.0,188.0 900.4,189.3 900.6,190.3 900.1,191.3 899.0,192.5 896.0,194.2 895.0,194.3 894.0,193.9 893.0,192.3 892.6,190.3 892.9,189.3ZM506.0,273.3 521.0,272.7 530.8,273.3 534.0,273.9 546.0,278.8 556.0,285.3 562.0,288.3 568.0,290.1 582.0,293.3 587.9,295.3 589.7,296.3 590.3,297.3 590.1,298.3 583.5,308.3 582.0,311.3 582.0,324.4 581.4,325.3 579.5,326.3 575.0,327.5 567.0,329.0 555.0,330.2 523.0,330.7 509.0,330.4 496.0,329.6 488.0,327.8 484.0,326.2 483.4,325.3 483.6,324.3 484.5,323.3 496.0,316.4 507.4,312.3 508.6,311.3 508.4,310.3 504.3,308.3 496.0,305.7 485.0,301.6 469.3,297.3 466.7,296.3 459.0,292.1 436.0,286.3 433.0,284.6 431.6,283.3 431.7,282.3 435.0,280.8 446.0,279.0 461.0,278.0 483.0,277.9 494.0,274.8ZM855.0,273.3 860.0,273.4 866.0,275.5 871.1,278.3 873.1,280.3 873.3,281.3 872.3,282.3 869.9,283.3 861.0,285.7 858.0,286.3 852.0,286.4 846.0,286.2 841.0,285.0 836.8,283.3 835.5,282.3 835.0,281.3 835.3,280.3 837.1,278.3 842.0,275.5 847.0,274.0Z"/>
<path fill="#ff8c14" d="M173.0,149.3 175.0,148.4 177.0,149.2 178.0,151.1 177.8,152.3 176.0,153.8 175.0,153.9 173.2,153.3 172.2,152.3 171.9,151.3ZM503.0,274.3 520.0,273.4 533.0,274.7 545.0,279.7 547.7,281.3 553.0,285.5 560.0,289.0 566.0,290.8 581.0,294.1 586.6,296.3 587.3,297.3 587.1,298.3 578.6,311.3 577.5,322.3 576.9,324.3 575.7,325.3 574.0,326.0 569.0,327.3 555.0,329.1 518.0,329.6 498.0,328.6 491.1,327.3 488.0,326.1 487.0,325.3 487.3,324.3 496.0,319.0 507.6,315.3 512.4,313.3 515.1,311.3 515.0,310.3 512.4,308.3 507.7,306.3 496.0,303.2 486.0,299.7 473.6,296.3 471.5,295.3 466.0,290.8 461.0,288.4 444.0,284.6 440.5,283.3 440.3,282.3 443.3,281.3 447.0,280.7 458.0,279.9 471.0,279.5 484.0,279.8 494.0,276.0ZM850.0,276.2 857.0,275.6 860.0,275.9 867.0,278.7 869.2,280.3 869.5,281.3 868.6,282.3 866.4,283.3 861.0,284.8 857.0,285.4 846.0,284.9 842.0,283.7 839.6,282.3 839.1,281.3 839.6,280.3 842.0,278.5 846.0,276.9Z"/>
<path fill="#ff6414" d="M514.0,274.3 522.0,274.3 533.0,275.8 545.0,281.3 550.6,286.3 555.0,288.7 562.0,291.1 580.0,294.9 583.5,296.3 584.3,297.3 583.6,299.3 576.0,309.1 574.8,311.3 572.4,321.3 571.1,324.3 569.6,325.3 566.2,326.3 558.0,327.6 539.0,328.4 521.0,328.7 509.0,328.3 497.0,327.4 492.9,326.3 491.5,325.3 491.7,324.3 495.0,322.1 510.0,317.4 515.0,315.5 520.8,312.3 521.7,311.3 521.7,310.3 521.0,309.3 518.5,307.3 513.0,304.6 506.0,302.6 496.0,300.6 483.6,296.3 482.3,295.3 480.7,291.3 479.0,289.3 476.9,288.3 472.0,287.3 466.0,284.9 459.2,283.3 458.9,282.3 472.0,281.4 483.0,282.6 497.8,276.3 505.0,274.9ZM856.0,277.3 859.0,277.4 862.0,278.3 865.0,279.8 866.2,281.3 865.4,282.3 863.3,283.3 859.0,284.4 856.0,284.6 850.0,284.4 846.0,283.8 842.9,282.3 842.4,281.3 843.0,280.3 844.0,279.6 847.0,278.3Z"/>
<path fill="#ff0000" d="M511.0,275.3 522.0,275.3 533.0,277.1 543.6,282.3 548.0,287.2 551.2,289.3 560.0,292.1 579.0,296.0 580.0,296.3 581.1,297.3 581.0,298.3 575.0,305.0 571.9,309.3 568.3,318.3 565.4,323.3 564.4,324.3 562.2,325.3 555.0,326.6 521.0,327.6 507.0,327.0 500.0,326.3 497.0,325.6 496.3,325.3 496.6,324.3 497.0,324.1 514.4,319.3 523.0,315.9 527.0,313.5 528.9,311.3 528.7,309.3 527.0,306.9 524.0,304.4 521.0,302.9 514.0,300.9 496.0,297.9 491.9,296.3 490.8,295.3 490.2,293.3 488.9,285.3 489.1,283.3 489.8,282.3 501.0,277.0 505.0,276.0ZM849.0,279.1 853.0,278.6 858.0,278.5 861.0,279.3 862.8,280.3 863.4,281.3 862.7,282.3 861.0,283.1 857.0,283.8 850.0,283.5 845.8,282.3 845.2,281.3 846.0,280.3Z"/>
<path fill="#c80a0a" d="M512.0,276.3 521.5,276.3 533.0,278.4 540.4,282.3 544.8,288.3 548.0,290.7 553.0,292.3 570.8,295.3 574.4,296.3 576.0,297.3 576.0,298.3 565.5,311.3 558.0,323.0 556.2,324.3 547.8,325.3 524.1,326.3 519.0,326.3 507.9,325.3 508.0,324.2 525.6,320.3 530.0,318.8 532.4,317.3 534.6,315.3 535.9,313.3 536.5,311.3 536.3,309.3 534.0,302.1 533.0,299.8 531.6,298.3 529.0,297.7 506.5,296.3 502.5,295.3 500.2,294.3 496.7,291.3 495.0,288.3 494.1,285.3 494.0,283.3 494.7,282.3 496.3,281.3 505.8,277.3ZM850.0,280.2 853.0,279.6 857.0,279.5 860.0,280.3 860.8,281.3 860.1,282.3 858.0,282.9 853.0,282.9 849.4,282.3 848.3,281.3Z"/>
<path fill="#00f5f5" d="M58.0,93.3 83.0,93.3 81.7,96.3 79.0,100.0 76.0,102.7 73.0,104.1 69.0,102.9 64.3,100.3 59.5,96.3 58.1,94.3ZM115.0,93.3 164.4,93.3 166.5,95.3 168.0,96.1 170.0,96.4 173.8,95.3 176.5,93.3 192.3,93.3 188.0,96.0 186.3,98.3 183.0,113.2 182.0,115.7 181.0,116.7 180.0,116.7 170.0,115.2 158.0,114.7 157.0,114.0 155.0,111.2 151.1,103.3 148.0,100.7 144.0,99.6 136.0,99.0 122.0,99.7 120.0,98.7 118.3,97.3 115.4,94.3ZM243.0,93.3 271.5,93.3 274.5,97.3 275.0,99.3 274.9,101.3 274.0,103.6 272.0,106.5 269.0,109.4 266.0,111.5 254.0,113.3 243.0,113.0 240.7,111.3 239.4,109.3 238.9,107.3 239.4,103.3 240.5,98.3 242.0,94.7ZM335.0,93.3 399.1,93.3 404.0,100.0 407.0,102.6 412.0,106.1 413.5,108.3 418.7,135.3 420.5,139.3 423.0,142.5 426.2,145.3 429.7,147.3 434.0,148.8 436.0,149.1 440.6,148.3 459.0,143.5 472.0,143.2 484.0,139.7 486.0,140.2 496.0,144.6 508.0,145.7 511.0,144.5 514.0,141.9 516.0,138.8 518.4,132.3 520.0,130.5 521.0,130.2 532.0,132.9 534.6,135.3 535.2,137.3 533.0,142.1 528.8,148.3 527.8,151.3 529.0,156.0 532.0,161.6 532.9,164.3 532.5,165.3 531.0,165.9 507.0,167.7 495.0,170.7 485.0,170.8 482.0,169.5 475.1,164.3 473.0,163.4 471.0,163.3 467.0,165.3 460.0,171.8 458.0,172.1 448.0,171.4 436.0,174.1 419.0,188.1 415.0,190.1 412.0,190.7 409.0,189.5 402.0,184.3 397.6,180.3 393.9,175.3 391.5,173.3 389.0,171.9 386.0,171.1 376.0,170.3 373.0,170.9 369.8,172.3 366.0,174.8 359.0,181.3 356.6,189.3 355.8,194.3 356.1,196.3 358.6,202.3 362.6,209.3 362.7,210.3 361.9,212.3 360.0,214.8 357.0,216.8 341.5,222.3 337.6,224.3 328.0,233.0 326.0,235.4 325.1,237.3 325.3,239.3 326.0,240.4 328.0,241.8 334.0,242.6 340.0,242.9 372.0,241.1 379.0,240.3 383.4,239.3 385.2,238.3 385.2,237.3 374.7,229.3 371.3,226.3 370.0,224.3 370.0,223.3 371.0,221.8 373.0,220.5 375.0,219.9 387.0,219.3 400.0,217.5 411.0,215.5 423.0,215.1 435.0,215.4 445.0,217.5 449.0,219.1 452.4,221.3 454.4,223.3 458.0,228.9 459.0,229.9 460.0,230.3 462.0,229.2 477.0,216.7 485.0,211.8 490.0,207.8 494.0,205.9 497.0,205.5 509.0,206.8 518.4,209.3 528.0,214.3 544.0,220.9 551.0,225.3 554.0,226.5 559.0,227.2 571.0,227.7 580.0,227.1 584.0,226.5 587.0,225.6 593.0,222.9 604.0,219.8 608.0,217.2 614.9,210.3 617.0,208.7 626.0,206.3 629.0,205.9 631.0,206.8 636.8,211.3 640.0,213.2 654.0,218.6 661.6,222.3 664.6,224.3 665.6,226.3 666.3,229.3 670.4,252.3 669.6,266.3 669.9,267.3 671.9,269.3 679.0,273.8 689.0,277.7 694.8,281.3 697.7,282.3 714.0,285.5 732.0,289.8 743.0,293.0 750.5,296.3 759.0,297.7 762.0,297.8 763.8,297.3 773.0,291.4 779.0,289.6 787.0,288.7 800.0,289.9 811.0,293.1 816.0,295.7 824.0,301.2 833.0,305.1 837.0,305.6 845.0,305.4 848.0,304.8 852.8,302.3 858.0,297.3 859.7,296.3 865.5,294.3 887.0,288.3 891.4,286.3 897.5,282.3 907.0,272.4 909.3,268.3 909.6,266.3 908.9,262.3 907.7,258.3 905.2,253.3 905.5,251.3 908.3,246.3 911.4,242.3 915.1,239.3 919.0,237.6 919.0,354.3 49.0,354.3 49.0,237.5 63.0,240.2 73.0,240.5 78.0,238.8 80.0,237.3 82.2,234.3 87.1,224.3 89.0,222.3 95.0,217.7 98.0,216.2 110.0,215.8 114.0,214.2 117.7,211.3 118.5,209.3 116.5,204.3 115.9,201.3 116.3,197.3 117.4,195.3 119.2,194.3 122.0,193.5 132.0,192.2 134.0,192.4 136.6,194.3 137.1,195.3 136.9,197.3 135.3,201.3 133.7,203.3 126.0,208.3 125.1,209.3 125.0,210.3 126.0,212.1 129.0,214.5 133.0,216.4 157.0,222.7 169.0,222.4 182.0,219.4 193.0,218.6 207.0,220.3 218.0,219.6 231.0,217.6 242.0,218.4 254.0,217.6 267.0,218.3 279.0,216.7 303.0,215.3 316.0,211.5 321.0,207.6 326.0,202.3 328.8,198.3 331.2,193.3 332.5,191.3 341.9,185.3 342.3,184.3 342.0,183.1 339.7,181.3 337.3,180.3 327.0,177.3 320.0,175.9 314.0,173.4 304.0,173.2 291.0,170.5 288.0,169.4 284.3,167.3 280.5,164.3 275.0,161.0 267.5,152.3 266.7,150.3 267.4,148.3 270.0,146.6 274.0,146.0 278.0,146.5 281.0,148.4 291.0,158.2 293.0,159.6 297.8,161.3 314.0,165.5 316.0,164.7 319.0,162.3 328.0,153.7 335.5,150.3 339.0,147.9 340.0,147.9 348.1,150.3 350.0,150.5 352.0,149.9 356.4,144.3 360.7,137.3 360.9,135.3 359.9,130.3 358.1,126.3 356.0,124.4 342.0,119.2 338.8,117.3 336.0,114.3 333.9,110.3 333.1,107.3 334.4,93.3ZM517.8,233.3 513.3,235.3 507.0,238.8 495.0,242.2 489.5,244.3 479.5,249.3 474.0,253.0 472.0,253.9 459.0,256.0 445.0,259.0 437.0,262.0 429.7,266.3 424.0,268.2 401.0,271.8 394.0,273.5 386.0,276.1 374.0,278.6 352.0,279.1 341.0,278.5 338.0,278.0 325.0,274.4 319.0,272.0 313.0,268.3 310.7,266.3 304.9,259.3 301.8,256.3 298.0,254.3 292.0,252.5 289.0,252.4 280.0,253.5 267.0,256.1 259.0,257.1 253.0,259.1 251.3,260.3 250.5,262.3 249.8,266.3 248.9,268.3 243.0,274.0 239.0,276.4 237.0,278.2 235.6,280.3 235.4,282.3 237.8,288.3 239.3,295.3 240.7,297.3 243.0,298.4 254.0,297.9 267.0,296.0 279.0,296.6 303.0,298.8 315.0,301.3 339.1,310.3 340.7,311.3 341.3,312.3 341.4,313.3 340.2,325.3 339.5,338.3 339.8,339.3 341.0,340.3 343.3,341.3 351.0,343.6 437.0,343.6 449.0,342.7 453.0,341.4 457.3,339.3 460.0,338.7 483.0,340.2 508.0,340.4 544.0,341.4 580.0,341.3 615.0,336.7 617.0,336.3 619.0,335.3 619.6,334.3 618.5,330.3 618.8,326.3 618.5,325.3 617.0,323.6 613.0,320.5 610.9,318.3 608.2,314.3 607.2,311.3 607.8,309.3 610.5,305.3 619.0,297.3 619.3,296.3 618.9,295.3 617.0,293.8 614.0,292.4 599.0,287.7 592.0,285.9 581.0,283.9 576.1,282.3 574.6,281.3 573.9,280.3 572.8,276.3 571.3,273.3 568.1,270.3 564.0,268.2 553.1,265.3 546.0,262.5 532.9,253.3 532.3,252.3 532.4,251.3 537.7,239.3 537.5,237.3 536.0,235.6 533.0,233.9 530.0,233.3 521.0,232.6ZM603.7,247.3 600.9,251.3 597.5,259.3 594.3,265.3 594.0,266.3 594.9,267.3 598.3,268.3 605.0,269.0 619.3,267.3 622.6,266.3 622.8,265.3 621.2,260.3 620.4,254.3 619.0,252.0 616.7,250.3 610.0,248.6 606.0,246.8 605.0,246.6ZM129.9,249.3 122.0,251.0 120.4,252.3 120.3,253.3 122.0,255.1 129.0,258.5 136.1,263.3 139.6,266.3 141.6,267.3 148.0,269.8 158.0,274.7 168.0,277.0 181.0,277.7 192.0,277.2 206.0,274.4 218.0,273.2 221.3,272.3 224.0,270.8 225.4,269.3 226.1,267.3 225.0,264.2 222.0,261.6 204.0,255.5 194.0,254.0 182.0,254.3 170.0,253.4 157.0,253.7 137.0,249.3 134.0,248.9ZM239.8,252.3 238.2,253.3 238.0,254.3 238.9,255.3 241.0,256.5 243.0,256.9 245.0,256.7 247.4,255.3 247.6,254.3 246.9,253.3 245.1,252.3 242.0,251.8ZM165.3,293.3 147.0,294.4 133.0,293.4 111.0,294.9 102.5,296.3 96.0,298.6 74.0,297.4 64.0,297.9 60.0,298.8 54.8,301.3 52.3,303.3 52.9,304.3 54.0,304.6 61.0,305.5 97.0,305.4 113.2,309.3 115.4,310.3 116.6,311.3 116.8,312.3 115.7,314.3 114.0,315.9 109.0,319.0 96.0,322.9 93.6,324.3 92.8,325.3 93.0,326.3 95.0,327.9 98.0,329.3 120.0,333.7 132.0,336.6 145.0,337.3 158.0,336.8 170.0,337.3 182.0,337.2 199.0,334.9 204.6,333.3 205.3,332.3 204.5,331.3 201.0,329.9 194.7,328.3 193.4,327.3 192.3,324.3 191.0,322.3 187.7,318.3 182.7,313.3 181.4,311.3 181.5,309.3 183.0,306.5 187.0,302.0 191.2,298.3 192.1,297.3 192.0,296.2 190.9,295.3 188.5,294.3 182.0,292.7ZM840.2,321.3 834.0,322.7 831.6,324.3 830.9,325.3 831.2,326.3 834.0,327.9 837.0,328.5 847.0,329.4 858.0,329.4 882.2,327.3 885.6,326.3 887.2,325.3 887.4,324.3 885.0,322.0 882.0,321.0 871.0,321.9 859.0,320.8 847.0,320.4ZM787.7,332.3 786.6,333.3 788.2,334.3 790.0,334.6 795.0,334.5 798.4,333.3 797.9,332.3 795.0,331.7 791.0,331.7ZM503.0,93.3 525.2,93.3 527.2,107.3 525.8,110.3 522.0,114.8 520.0,116.2 517.0,116.5 509.0,116.3 507.0,114.8 505.0,111.3 503.7,107.3 502.2,93.3ZM736.0,93.3 783.5,93.3 780.8,109.3 778.5,115.3 775.4,121.3 775.0,123.3 776.8,136.3 781.6,152.3 784.0,155.3 786.0,156.7 798.0,161.1 800.0,161.1 810.0,158.7 816.0,159.0 820.0,159.6 821.6,160.3 823.0,161.7 824.2,164.3 824.3,167.3 823.2,171.3 820.3,179.3 818.8,181.3 811.0,186.5 800.0,188.6 796.0,190.3 793.7,192.3 792.3,194.3 791.7,201.3 790.2,204.3 775.0,214.1 774.0,214.4 772.0,213.4 770.0,211.0 769.0,208.3 768.4,202.3 768.5,194.3 768.2,189.3 766.0,177.3 765.0,168.3 765.0,166.3 767.0,161.3 767.7,157.3 767.7,152.3 767.0,147.3 767.1,144.3 768.0,141.1 770.7,136.3 771.1,132.3 770.6,129.3 770.0,128.0 768.0,126.8 766.0,127.1 761.0,129.8 759.0,130.1 757.0,129.5 753.0,126.6 751.0,125.9 748.0,126.1 743.0,127.8 740.0,128.4 737.0,128.0 734.5,126.3 733.1,124.3 732.6,122.3 732.9,120.3 735.2,113.3 735.7,93.3ZM49.7,104.3 51.6,106.3 51.8,108.3 50.5,112.3 50.0,113.2 49.0,113.8 49.0,104.0ZM919.0,104.4 919.0,113.6 917.9,112.3 917.1,108.3 917.5,106.3ZM660.0,116.2 664.0,115.6 665.0,115.8 666.4,117.3 667.9,120.3 668.2,122.3 667.8,123.3 666.0,125.4 664.0,126.4 654.0,126.2 652.0,125.4 649.7,123.3 649.4,122.3 649.5,121.3 651.0,119.2 653.0,117.4 655.0,116.8ZM195.0,131.8 199.0,131.7 204.0,132.6 206.0,133.4 208.1,135.3 209.6,138.3 210.7,146.3 210.7,150.3 209.4,152.3 207.7,153.3 206.0,153.7 203.0,152.6 199.8,150.3 196.0,145.4 194.0,141.9 192.4,137.3 192.5,135.3 193.0,133.7 194.0,132.3ZM615.0,140.2 618.0,140.3 623.1,143.3 628.0,147.7 632.7,154.3 636.0,156.8 640.0,159.0 644.0,159.9 649.0,160.0 655.0,159.5 665.0,157.8 669.0,159.0 676.0,162.2 678.0,164.1 679.2,166.3 681.8,179.3 680.8,180.3 678.1,181.3 667.0,183.3 663.0,183.5 655.0,182.7 652.0,181.9 649.1,180.3 644.0,175.1 641.0,172.7 635.9,169.3 630.0,166.2 628.0,166.4 622.0,169.2 617.0,170.3 605.0,168.1 593.0,167.3 586.3,166.3 582.7,165.3 581.6,164.3 582.6,151.3 584.7,148.3 588.0,145.6 593.0,143.0 606.0,141.9ZM241.0,166.3 242.0,165.8 243.0,165.8 244.2,167.3 245.0,173.3 247.7,180.3 248.6,185.3 248.2,189.3 247.0,192.3 245.0,194.7 243.0,195.9 241.0,195.5 239.0,193.8 237.5,191.3 236.4,187.3 236.7,182.3 239.4,174.3 240.5,167.3ZM433.0,306.0 437.0,305.4 448.0,306.2 462.1,310.3 463.8,311.3 464.0,312.3 457.2,319.3 450.1,325.3 447.0,330.4 445.0,331.3 442.0,332.0 438.0,332.6 436.0,332.5 434.0,331.1 431.0,326.3 426.0,320.4 423.8,316.3 422.4,312.3 422.6,311.3 425.0,309.3Z"/>
<path fill="#1e96e6" d="M67.0,93.3 77.9,93.3 75.9,96.3 74.0,97.9 73.0,98.2 71.0,97.6 68.0,95.5 66.1,93.3ZM121.0,93.3 140.0,93.3 134.0,94.7 124.0,95.1 122.0,94.9 120.0,93.3ZM344.0,93.3 375.4,93.3 380.2,100.3 388.0,108.7 392.0,111.4 400.0,114.3 404.0,118.2 406.1,121.3 407.4,124.3 410.0,131.8 412.6,141.3 415.0,146.5 417.0,148.9 419.0,150.3 428.6,154.3 431.0,156.0 432.0,157.4 435.3,165.3 434.1,167.3 424.3,176.3 420.7,182.3 416.9,186.3 413.0,188.4 412.0,188.5 410.0,187.9 404.3,183.3 401.4,180.3 399.0,173.5 397.5,171.3 394.0,169.1 389.0,167.7 376.0,167.1 370.0,168.2 365.0,170.0 353.0,177.7 350.0,178.7 340.0,177.8 337.0,177.0 329.5,173.3 324.0,168.7 323.1,167.3 322.9,166.3 323.2,165.3 328.9,159.3 333.0,156.5 339.0,154.3 352.0,155.9 356.0,155.4 359.0,154.6 362.0,152.6 365.6,146.3 369.0,142.9 374.0,140.6 383.6,138.3 385.5,137.3 386.3,136.3 383.2,118.3 382.4,116.3 381.0,114.9 379.0,114.0 376.0,113.5 363.0,116.4 352.0,116.2 350.0,115.7 347.0,114.2 341.0,109.8 339.6,107.3 339.7,105.3 341.8,98.3 343.6,93.3ZM399.7,150.3 398.9,151.3 398.9,152.3 400.0,153.2 401.3,152.3 401.9,151.3 401.0,150.2ZM746.0,93.3 777.1,93.3 776.4,106.3 775.2,110.3 773.0,113.2 770.0,114.7 767.8,116.3 766.6,118.3 764.7,123.3 762.3,126.3 760.0,128.0 758.0,128.1 753.0,125.0 751.0,124.4 748.0,124.8 742.0,127.2 738.0,127.5 735.7,126.3 734.1,124.3 733.6,122.3 734.1,120.3 740.2,110.3 745.6,93.3ZM169.0,105.2 171.0,104.6 173.0,104.7 174.4,105.3 175.0,106.0 175.1,107.3 174.3,108.3 173.0,108.8 171.0,109.1 169.0,108.7 168.1,108.3 167.4,107.3 167.7,106.3ZM774.0,139.3 775.0,140.2 776.0,142.4 779.0,152.1 780.0,154.3 781.5,156.3 784.0,158.2 798.0,163.6 801.0,163.4 809.0,161.5 812.0,161.6 817.0,163.6 819.0,165.2 819.4,166.3 816.1,178.3 815.1,180.3 814.1,181.3 810.0,183.8 798.4,185.3 792.3,188.3 790.2,190.3 789.1,192.3 788.1,199.3 786.4,202.3 784.1,204.3 782.0,205.5 779.0,206.6 775.0,207.3 774.0,207.0 773.0,205.7 771.6,201.3 771.3,197.3 771.9,188.3 771.7,184.3 769.2,174.3 767.9,167.3 769.6,158.3 769.3,146.3 769.9,144.3 771.2,142.3 773.0,139.8ZM481.0,147.2 485.0,147.1 493.2,150.3 496.1,152.3 496.6,153.3 496.5,154.3 495.1,156.3 493.0,157.7 490.0,158.9 485.0,160.0 472.0,158.3 461.0,159.9 458.0,160.0 451.0,158.6 444.6,156.3 443.5,155.3 443.7,154.3 444.9,153.3 449.1,151.3 458.0,148.6 461.0,148.2 472.0,148.3ZM605.0,147.3 616.0,147.1 618.0,147.9 621.1,150.3 622.4,152.3 624.9,159.3 624.1,161.3 620.4,165.3 618.9,166.3 617.0,166.9 613.1,166.3 596.0,160.0 593.0,158.3 591.6,156.3 590.4,153.3 590.4,151.3 591.2,150.3 594.0,148.8ZM654.0,163.3 665.0,162.7 669.0,163.9 672.0,165.5 673.7,167.3 674.9,171.3 674.5,175.3 673.1,178.3 672.2,179.3 670.0,180.3 665.0,181.2 659.4,180.3 655.0,178.2 653.0,176.3 645.3,166.3 646.2,165.3 648.0,164.7ZM242.0,184.4 243.0,184.6 243.3,185.3 243.0,187.4 241.9,187.3 241.6,186.3ZM340.0,192.2 343.2,193.3 345.0,195.3 350.2,208.3 350.0,209.3 347.3,211.3 341.0,214.2 338.0,214.9 335.1,214.3 332.7,213.3 331.0,211.9 330.2,210.3 330.8,208.3 334.4,202.3 337.2,194.3 338.0,193.1ZM124.0,198.2 126.1,198.3 127.3,199.3 127.5,200.3 127.0,201.3 125.7,202.3 123.0,202.8 122.0,202.3 121.6,200.3 122.0,199.3ZM502.0,211.2 508.0,210.9 509.0,211.5 513.0,215.7 516.8,218.3 522.0,220.4 532.0,223.0 532.7,223.3 533.3,224.3 532.0,225.3 531.0,225.5 520.0,226.4 511.5,228.3 496.0,234.2 491.0,235.6 484.0,238.8 482.0,238.9 477.3,238.3 476.5,237.3 478.4,233.3 479.4,225.3 480.3,223.3 483.0,220.9 490.0,217.0 496.0,212.4 498.0,211.7ZM627.0,212.1 629.0,211.8 634.0,215.1 637.0,216.6 654.0,222.3 656.0,223.3 658.3,225.3 661.7,233.3 662.9,237.3 663.3,240.3 663.6,253.3 660.4,266.3 660.5,267.3 662.0,268.9 666.0,271.0 681.0,281.1 694.0,283.5 715.0,286.7 735.0,291.8 742.0,294.2 750.0,297.6 760.0,299.0 762.0,299.0 764.7,298.3 769.0,296.3 775.0,292.6 782.0,290.7 787.0,290.0 798.0,291.0 805.0,292.8 811.0,295.1 814.8,297.3 823.0,303.4 832.0,307.4 835.0,308.3 846.0,308.5 853.0,306.8 856.0,305.4 858.0,303.8 860.0,301.3 861.3,298.3 862.1,297.3 863.7,296.3 869.4,294.3 888.0,289.3 892.0,287.6 900.0,283.3 907.0,276.1 910.2,271.3 911.4,268.3 911.6,266.3 911.0,259.9 910.0,254.3 910.1,252.3 911.7,249.3 914.0,246.4 917.0,243.5 919.0,242.3 919.0,299.0 914.6,302.3 911.0,305.9 908.0,307.7 902.0,309.1 896.0,309.9 882.0,311.0 874.0,314.7 871.0,315.7 859.0,315.9 847.0,315.3 836.0,316.5 833.0,317.7 824.0,323.7 822.3,325.3 822.2,326.3 824.0,328.3 828.0,330.6 832.4,332.3 836.0,332.9 846.0,333.4 858.0,333.3 883.0,331.9 907.0,326.6 909.0,325.3 912.0,321.0 914.4,318.3 916.9,316.3 919.0,315.3 919.0,354.3 49.0,354.3 49.0,314.8 56.0,310.3 59.5,309.3 84.0,308.0 98.0,308.4 105.6,310.3 107.7,311.3 107.8,312.3 104.1,314.3 91.0,318.8 85.0,321.8 76.9,324.3 76.1,325.3 77.5,326.3 85.0,328.9 92.0,332.8 98.0,335.3 135.0,342.5 158.0,343.0 170.0,343.7 194.0,343.7 232.0,345.3 253.0,345.0 266.0,343.8 279.0,343.7 291.0,343.0 325.0,343.0 328.0,343.4 339.3,346.3 348.0,349.1 352.0,349.7 470.0,349.7 474.4,349.3 487.0,345.8 496.0,344.3 521.0,344.6 581.0,343.9 616.0,339.5 622.0,338.4 625.2,337.3 626.5,336.3 626.6,335.3 622.0,330.4 621.2,326.3 620.2,324.3 612.0,316.5 609.8,313.3 609.1,311.3 609.8,309.3 612.0,306.3 621.5,297.3 621.9,296.3 621.1,294.3 618.0,292.0 612.0,289.8 594.0,285.1 580.0,282.4 578.2,281.3 577.7,279.3 579.0,274.1 580.0,272.7 582.0,271.7 604.0,271.5 617.0,270.5 631.0,272.4 637.0,271.4 639.0,270.4 640.0,269.3 640.5,268.3 639.7,266.3 634.2,260.3 627.4,251.3 621.0,245.6 613.0,240.3 611.9,239.3 610.9,237.3 609.9,226.3 610.2,224.3 618.0,217.1ZM787.6,331.3 784.6,332.3 783.5,333.3 783.6,334.3 787.0,335.6 793.0,335.8 800.0,334.8 801.5,334.3 802.8,333.3 802.3,332.3 798.0,331.1 793.0,330.8ZM410.0,218.3 419.0,218.1 427.0,218.8 435.0,220.7 441.0,223.3 442.8,225.3 445.0,239.2 447.0,244.2 450.4,250.3 450.7,251.3 450.3,252.3 448.5,253.3 438.0,255.9 433.0,257.6 429.0,259.4 423.0,263.4 419.4,265.3 413.6,267.3 394.0,270.7 375.0,275.1 364.0,276.0 353.0,276.2 339.0,274.9 327.0,272.3 322.0,270.4 319.0,268.8 317.3,267.3 315.8,265.3 311.4,257.3 308.2,253.3 306.0,251.4 302.0,249.7 291.0,247.7 278.0,247.9 266.0,250.8 249.0,248.1 242.0,247.5 229.0,250.3 226.0,251.4 221.0,254.1 218.0,254.7 213.6,253.3 207.0,249.9 205.0,249.3 194.0,248.8 181.0,250.3 170.0,248.9 158.0,248.1 145.0,245.6 133.0,244.5 121.0,246.0 118.5,247.3 116.0,249.2 113.8,252.3 114.5,254.3 118.0,257.7 130.5,266.3 132.7,267.3 145.0,270.8 150.4,273.3 157.0,277.0 160.0,278.0 171.0,280.0 192.0,280.7 194.0,280.6 207.0,277.8 218.0,277.7 223.0,278.8 225.5,280.3 231.0,285.3 233.7,289.3 236.6,296.3 238.6,298.3 242.0,300.4 244.0,300.7 254.0,300.3 268.0,298.5 279.0,298.9 302.0,300.9 314.0,303.6 329.3,309.3 332.0,310.6 333.0,311.3 333.6,312.3 332.3,324.3 331.0,328.1 328.5,332.3 327.0,333.8 324.0,335.0 315.0,336.4 302.0,337.5 291.0,337.7 279.0,336.8 267.0,336.7 230.0,332.8 224.0,331.7 219.0,330.2 211.9,326.3 200.0,321.2 196.7,318.3 193.4,313.3 192.5,311.3 192.6,310.3 195.5,304.3 197.8,296.3 197.0,292.2 195.3,288.3 194.0,286.7 192.0,286.1 182.0,286.0 170.0,286.9 159.0,289.2 152.0,291.4 146.0,292.3 133.0,292.5 110.0,294.2 97.0,296.2 61.0,295.5 55.5,296.3 49.0,298.4 49.0,242.1 60.0,244.2 73.0,246.1 78.0,245.9 84.0,244.9 87.0,242.9 89.8,239.3 95.2,225.3 96.0,224.2 98.0,222.9 111.0,222.8 133.0,224.2 146.0,227.2 157.0,228.6 170.0,227.0 182.0,222.8 193.0,222.0 199.9,223.3 207.0,226.0 212.0,226.5 218.0,226.7 231.0,225.2 242.0,226.1 255.0,225.7 266.0,227.0 269.0,226.6 280.0,223.9 302.0,221.6 314.0,219.0 317.0,219.0 321.5,220.3 323.6,222.3 323.8,224.3 320.1,232.3 318.8,237.3 318.8,239.3 320.0,242.7 322.0,245.9 324.6,248.3 327.0,249.3 352.0,245.7 364.0,245.1 389.0,245.0 399.0,244.2 401.0,243.1 403.0,241.3 404.3,239.3 404.1,238.3 403.1,237.3 396.0,233.2 392.1,230.3 388.4,226.3 387.8,225.3 387.9,224.3 390.0,222.8 394.3,221.3ZM557.0,232.2 569.0,231.6 580.0,232.2 586.0,233.8 589.5,236.3 590.2,237.3 590.9,239.3 590.0,252.3 589.5,254.3 588.0,257.1 584.7,261.3 582.0,263.4 580.0,264.3 573.0,265.1 568.0,265.1 557.0,262.7 554.0,261.7 546.0,257.9 541.0,254.3 539.7,252.3 540.0,250.9 548.7,236.3 552.0,233.7ZM434.0,307.0 439.0,306.6 448.0,307.4 456.7,310.3 458.2,311.3 458.4,312.3 453.2,318.3 448.0,322.3 442.0,323.7 436.0,324.1 433.0,322.6 429.5,319.3 427.5,316.3 426.0,312.3 426.2,311.3 428.0,309.6Z"/>
<path fill="#0f6ec8" d="M352.0,101.0 355.0,101.2 362.0,102.8 365.0,105.2 365.7,106.3 365.8,107.3 364.8,108.3 362.0,109.3 353.0,110.1 351.0,109.8 348.8,108.3 348.3,107.3 348.4,106.3 350.0,102.8 351.0,101.6ZM754.0,113.2 756.0,112.7 758.0,113.1 760.0,115.0 761.0,116.7 762.1,120.3 762.1,122.3 761.2,124.3 760.0,125.5 758.0,126.0 753.0,122.9 751.0,122.4 749.0,122.7 743.0,126.0 740.0,126.8 737.0,126.3 735.0,124.3 734.6,122.3 735.0,120.7 736.0,119.1 738.0,117.4 741.0,116.6 748.0,116.6 751.0,114.1ZM399.0,134.2 400.0,134.6 400.6,136.3 400.0,137.6 399.0,137.8 398.0,136.3ZM377.0,145.3 386.0,145.6 388.0,146.2 389.6,147.3 391.2,149.3 391.7,151.3 391.0,154.3 389.7,156.3 388.0,157.8 386.0,158.8 380.0,160.0 375.0,160.3 372.0,158.8 370.6,157.3 369.6,155.3 369.0,153.3 369.0,151.3 370.2,149.3 372.2,147.3 375.0,145.6ZM774.0,145.7 775.5,148.3 777.8,156.3 779.1,158.3 781.0,159.7 792.0,163.2 799.0,166.8 801.0,166.6 809.0,164.3 811.0,164.3 812.9,165.3 813.7,166.3 813.9,168.3 812.0,176.9 811.0,179.5 810.2,180.3 809.0,180.7 798.0,182.1 791.0,184.8 785.0,187.8 783.0,187.7 780.0,185.5 777.2,182.3 773.9,177.3 772.2,173.3 770.9,167.3 771.7,159.3 772.0,149.4 773.0,146.3ZM460.0,153.1 462.0,152.7 465.6,153.3 462.4,154.3 461.0,154.4 460.0,153.9 459.7,153.3ZM411.0,155.2 414.0,155.6 418.9,158.3 423.8,162.3 426.1,165.3 426.0,166.3 423.0,169.8 421.5,172.3 418.5,181.3 415.0,185.3 412.0,186.5 411.0,186.3 409.0,185.0 404.6,180.3 401.9,166.3 402.8,163.3 405.0,160.0 408.0,156.9ZM337.0,158.2 339.0,157.6 343.0,157.8 348.0,158.8 354.0,160.7 358.8,163.3 360.3,165.3 360.1,166.3 356.0,169.7 350.0,173.0 341.0,174.4 338.0,174.0 332.2,170.3 330.2,168.3 329.1,166.3 329.5,164.3 331.1,162.3 334.0,159.9ZM779.0,191.1 781.0,190.7 783.0,191.6 784.4,194.3 784.9,197.3 784.4,199.3 783.0,201.2 781.0,202.4 779.0,202.7 777.0,202.4 775.2,201.3 774.4,199.3 774.2,197.3 775.0,194.0 777.0,192.1ZM629.0,220.1 641.0,222.4 646.8,224.3 652.0,227.4 654.4,230.3 657.3,236.3 658.0,238.3 658.0,240.3 656.3,252.3 655.0,256.0 653.0,259.1 652.0,259.3 651.0,259.0 641.0,254.9 631.0,245.1 622.9,238.3 622.3,236.3 622.4,225.3 623.0,224.0 624.8,222.3ZM407.0,221.2 413.0,220.5 421.0,220.9 425.0,221.5 429.0,222.8 431.4,224.3 431.9,225.3 431.8,227.3 430.2,230.3 428.0,232.4 425.0,234.3 422.0,234.8 413.0,233.8 410.0,233.1 400.0,228.6 398.0,227.0 396.7,225.3 396.8,224.3 398.2,223.3ZM183.0,228.2 194.0,228.3 201.0,231.1 206.0,233.9 208.0,234.3 216.0,233.4 228.0,230.7 233.0,230.4 245.0,231.1 261.0,234.3 267.0,235.1 277.0,234.0 284.0,231.7 291.0,230.0 303.0,228.9 306.0,229.5 309.1,231.3 311.1,234.3 311.9,238.3 311.0,240.9 309.0,243.0 306.0,244.2 303.0,244.6 287.0,243.1 277.0,241.4 255.0,242.5 219.0,245.5 217.0,245.0 209.0,241.4 206.0,240.7 182.0,244.4 169.0,243.6 145.0,240.5 132.0,240.1 122.0,240.5 118.0,241.1 113.0,242.6 109.0,245.4 105.3,247.3 104.5,248.3 103.8,250.3 104.1,252.3 105.1,253.3 109.0,255.7 116.0,261.7 121.4,265.3 125.9,267.3 139.0,270.7 144.0,272.5 150.0,275.5 158.0,280.3 163.0,282.3 162.2,283.3 158.0,285.0 154.4,287.3 151.0,288.9 146.1,290.3 142.0,290.9 110.0,293.5 97.0,295.1 61.0,294.0 49.0,294.5 49.0,247.1 62.0,248.9 74.0,251.8 86.0,253.1 89.3,252.3 92.0,250.8 94.0,248.8 97.0,244.7 100.0,241.9 102.0,238.3 102.9,237.3 105.9,235.3 109.0,233.9 133.0,234.3 145.0,235.1 154.0,234.7 158.0,234.2ZM563.0,236.2 570.0,235.6 579.0,237.2 581.4,238.3 582.5,240.3 583.2,251.3 582.8,253.3 581.0,255.7 578.9,257.3 575.0,259.1 571.0,260.3 568.0,260.7 556.0,258.6 550.0,255.7 546.9,253.3 546.6,252.3 547.3,250.3 554.5,239.3 557.0,237.5ZM918.0,248.0 919.0,247.4 919.0,294.9 913.6,299.3 908.0,302.7 903.0,304.9 898.0,306.5 894.0,307.2 878.0,307.8 871.0,308.7 869.0,308.4 868.0,307.9 866.9,306.3 866.2,303.3 865.7,299.3 866.2,297.3 867.6,296.3 870.1,295.3 888.0,290.6 900.0,286.1 903.0,284.2 909.0,277.7 911.6,273.3 913.4,268.3 914.0,253.3 915.1,251.3ZM352.0,249.3 363.0,248.4 375.0,249.0 382.7,250.3 388.9,252.3 390.7,253.3 392.1,255.3 395.6,264.3 395.9,265.3 395.6,266.3 393.5,267.3 374.0,271.8 363.0,273.1 352.0,273.3 339.0,272.0 327.0,270.2 322.6,268.3 321.2,267.3 319.7,265.3 318.9,262.3 319.1,260.3 320.1,258.3 322.0,256.7 337.6,252.3ZM612.0,273.3 617.0,273.0 622.0,274.1 626.0,275.8 631.2,279.3 632.2,280.3 632.5,281.3 632.0,282.9 630.2,285.3 631.2,286.3 642.0,286.7 654.5,285.3 657.1,284.3 657.6,283.3 657.1,282.3 653.5,279.3 653.4,278.3 654.0,277.5 657.0,276.6 664.0,276.3 666.0,276.9 668.0,278.4 668.9,279.3 670.1,282.3 671.0,283.3 673.8,284.3 678.0,284.7 690.0,284.7 702.0,285.8 714.0,287.4 734.0,292.7 749.0,298.7 759.0,300.1 762.0,300.2 765.0,299.4 770.3,297.3 777.0,293.8 785.0,291.5 791.0,291.7 800.0,292.8 806.0,294.8 810.0,296.6 814.1,299.3 822.0,305.6 829.9,309.3 831.8,310.3 832.8,311.3 832.6,312.3 831.6,313.3 823.0,319.5 815.7,325.3 815.1,326.3 815.3,330.3 814.3,332.3 814.2,333.3 816.3,334.3 822.0,335.8 834.0,337.1 858.0,337.1 883.0,336.5 894.0,335.4 907.0,333.4 912.8,331.3 919.0,328.0 919.0,354.1 811.0,354.1 785.0,352.9 739.0,352.9 724.0,352.2 642.0,352.2 627.0,351.0 558.0,351.0 554.0,350.5 549.6,349.3 549.7,348.3 556.9,347.3 589.0,347.1 625.0,345.0 629.0,344.2 632.4,341.3 634.8,337.3 634.9,336.3 634.1,335.3 628.0,332.3 625.3,330.3 622.5,324.3 614.0,316.0 611.9,313.3 611.1,311.3 611.8,309.3 614.0,306.6 624.0,297.3 624.6,295.3 623.0,291.9 622.0,290.7 620.0,289.6 586.4,282.3 583.5,281.3 583.0,280.3 584.0,279.2 587.0,277.7 595.0,275.4 601.5,274.3ZM789.5,330.3 785.0,331.1 781.8,332.3 779.4,334.3 778.4,336.3 777.0,336.9 763.0,337.3 749.0,336.4 735.0,336.2 729.1,336.3 727.0,337.3 729.0,338.2 731.2,340.3 733.0,341.2 739.0,342.7 751.0,343.8 773.0,343.5 779.0,342.7 784.4,341.3 785.9,340.3 786.1,339.3 786.8,338.3 804.0,336.0 810.1,334.3 811.9,333.3 810.5,332.3 803.0,330.7 795.0,330.0ZM692.2,335.3 692.5,336.3 707.0,336.8 719.0,337.0 723.5,336.3 711.3,335.3ZM205.0,282.0 207.0,281.7 216.0,282.0 218.0,282.2 220.0,283.1 229.0,289.5 231.0,291.8 233.4,296.3 235.3,298.3 239.0,301.0 242.0,302.6 244.0,302.9 254.0,302.6 266.0,301.0 269.0,300.9 279.0,301.1 303.0,303.2 314.0,306.1 324.4,310.3 325.8,311.3 326.4,312.3 326.0,315.0 324.9,318.3 323.3,321.3 321.7,323.3 319.2,325.3 311.0,328.7 305.0,330.3 301.0,331.0 290.0,331.6 264.0,330.9 253.0,329.8 216.0,323.5 209.8,321.3 204.0,318.0 200.0,314.4 198.2,311.3 198.4,309.3 201.8,297.3 202.7,284.3 203.1,283.3ZM434.0,308.3 436.0,307.8 439.0,307.7 447.0,308.5 452.3,310.3 453.7,311.3 453.9,312.3 450.3,317.3 447.0,319.7 442.0,321.0 436.0,321.1 434.0,320.1 431.2,317.3 429.5,314.3 428.9,312.3 429.1,311.3 430.0,310.3ZM50.0,327.8 61.0,329.3 76.0,333.7 84.0,336.4 97.0,342.3 101.0,343.6 110.0,345.6 121.0,346.3 124.6,347.3 125.7,348.3 125.1,349.3 124.0,350.0 121.0,350.9 110.0,351.0 98.0,352.2 74.0,353.6 49.0,354.1 49.0,327.7Z"/>
<path fill="#0f46dc" d="M738.0,119.0 740.0,118.6 743.0,119.1 745.1,120.3 745.8,121.3 745.8,122.3 744.0,124.3 742.3,125.3 740.0,125.9 738.0,125.8 736.1,124.3 735.5,122.3 736.4,120.3ZM757.0,120.5 758.0,120.3 759.0,121.2 759.0,122.5 758.0,123.1 756.5,122.3 756.3,121.3ZM377.0,149.2 381.0,149.1 384.0,149.8 385.0,150.3 385.9,151.3 385.7,152.3 384.7,153.3 382.0,154.3 379.0,154.6 376.0,154.3 374.5,153.3 373.9,152.3 373.9,151.3 375.0,149.9ZM339.0,160.1 344.0,160.3 349.0,161.8 352.6,164.3 353.2,165.3 353.1,166.3 351.0,168.4 347.0,170.1 341.0,171.2 338.0,170.8 334.0,167.9 332.9,166.3 332.9,165.3 335.1,162.3 337.0,160.9ZM411.0,160.8 413.0,160.8 415.0,161.9 417.6,164.3 418.7,166.3 417.5,177.3 416.9,180.3 414.6,183.3 412.0,184.5 410.0,183.7 407.7,181.3 406.8,179.3 406.6,176.3 406.7,166.3 408.3,163.3ZM775.0,162.2 778.0,162.9 787.0,163.6 791.0,164.9 793.4,166.3 795.8,169.3 797.1,173.3 796.7,176.3 795.0,179.2 792.0,180.9 787.0,182.3 785.0,182.1 782.3,180.3 778.2,175.3 775.0,169.9 774.1,167.3 773.9,165.3ZM410.0,223.2 413.0,223.0 417.3,223.3 421.6,224.3 422.6,225.3 422.2,226.3 420.0,227.4 416.0,228.2 412.0,228.3 409.1,227.3 406.7,225.3 407.1,224.3ZM180.0,232.2 185.0,231.9 191.0,232.5 194.0,233.3 195.2,234.3 195.5,235.3 195.0,236.3 193.0,237.5 190.0,238.3 183.0,239.2 172.0,238.6 170.5,238.3 169.8,237.3 170.6,236.3 173.5,234.3ZM640.0,232.0 642.0,232.0 650.6,237.3 651.5,238.3 651.7,239.3 651.1,240.3 648.2,242.3 644.0,243.9 642.0,244.3 640.0,243.5 636.5,240.3 635.2,238.3 635.2,237.3 636.2,235.3 638.0,233.3ZM228.0,234.1 233.0,233.3 241.0,233.7 246.4,235.3 248.8,237.3 248.6,238.3 246.5,239.3 242.0,240.2 237.0,240.5 229.0,240.4 224.3,239.3 222.8,238.3 222.6,237.3 223.4,236.3 224.9,235.3ZM291.0,234.2 296.0,233.9 302.0,234.6 304.5,236.3 305.2,238.3 304.6,239.3 303.0,240.3 296.0,240.9 288.8,240.3 285.6,239.3 284.3,238.3 284.2,237.3 285.2,236.3 288.0,234.9ZM568.0,242.1 569.1,242.3 571.0,244.0 574.1,249.3 574.8,252.3 574.3,253.3 573.2,254.3 570.0,255.9 567.0,256.3 557.0,255.1 555.0,254.3 553.8,253.3 553.4,252.3 553.6,251.3 555.0,249.1 557.0,246.9ZM50.0,252.2 61.0,252.8 85.0,256.2 96.0,256.2 98.0,256.5 105.0,259.7 116.0,266.3 135.0,271.1 142.0,273.6 152.2,279.3 154.7,281.3 155.1,282.3 154.7,283.3 153.7,284.3 150.5,286.3 145.8,288.3 142.0,289.3 126.0,291.5 98.0,294.2 72.0,293.5 55.0,292.1 49.0,291.1 49.0,252.1ZM356.0,252.2 365.0,251.7 373.0,252.9 376.0,254.1 377.7,256.3 378.9,259.3 379.0,262.3 378.1,266.3 376.8,267.3 374.0,268.3 367.0,269.6 362.0,270.2 352.0,270.4 343.0,269.5 332.0,269.1 328.0,268.6 324.9,267.3 323.8,266.3 322.6,264.3 322.6,262.3 323.0,261.2 325.0,259.3 327.0,258.5 331.0,257.6 341.0,257.0 350.0,253.3ZM919.0,252.7 919.0,291.2 917.0,291.7 915.0,293.0 911.7,297.3 908.9,299.3 905.0,301.1 896.0,304.1 892.0,304.5 882.0,304.6 876.0,303.3 872.0,301.1 870.1,298.3 870.3,297.3 871.7,296.3 877.9,294.3 902.0,288.3 904.3,287.3 906.8,285.3 911.4,279.3 913.5,275.3 915.2,269.3 917.0,256.8 917.8,254.3ZM606.0,276.2 615.0,275.4 618.0,275.6 621.0,276.8 624.0,278.5 625.8,280.3 626.3,281.3 626.2,282.3 625.0,283.7 623.0,284.9 620.0,286.1 617.0,286.5 604.0,284.9 594.2,282.3 592.6,281.3 593.1,280.3 597.0,278.3 602.0,276.9ZM685.0,286.3 690.0,286.2 701.0,286.8 714.0,288.4 732.5,293.3 749.0,300.0 760.0,301.3 763.0,301.2 767.0,300.0 779.0,294.8 785.0,292.9 788.0,292.7 798.0,293.8 804.0,295.7 809.1,298.3 822.0,308.4 825.2,310.3 826.0,311.3 825.7,312.3 818.0,319.7 809.5,325.3 807.8,327.3 806.0,328.5 802.0,329.2 788.0,329.8 782.0,331.1 774.0,333.9 769.0,334.6 762.0,334.9 695.0,333.4 678.0,333.7 654.0,334.9 641.0,334.9 632.0,331.9 628.8,330.3 627.0,328.3 624.8,324.3 615.7,315.3 613.4,312.3 613.2,310.3 614.0,309.1 616.6,306.3 625.6,298.3 627.1,296.3 628.0,292.2 629.0,291.0 631.0,290.0 638.0,288.8 665.0,286.4ZM217.0,287.2 219.0,287.6 221.0,288.8 226.8,293.3 234.3,300.3 238.9,303.3 242.0,304.8 244.0,305.0 254.0,304.9 267.0,303.3 277.0,303.3 301.0,305.2 306.0,306.2 315.0,309.1 317.6,310.3 318.9,311.3 319.2,312.3 318.0,314.8 315.0,318.2 312.3,320.3 309.0,322.2 303.0,324.4 293.0,325.5 266.0,325.6 243.0,323.1 230.0,322.8 218.0,321.3 213.0,319.4 209.0,317.1 204.0,312.8 203.0,311.3 202.8,310.3 206.0,297.5 208.0,292.6 211.4,289.3 214.0,288.0ZM435.0,309.1 440.0,308.8 446.0,309.5 448.7,310.3 450.1,311.3 450.4,312.3 448.8,315.3 446.0,317.6 442.0,318.9 437.0,319.0 435.2,318.3 433.9,317.3 432.4,315.3 431.6,313.3 431.7,311.3 432.6,310.3ZM50.0,338.1 61.0,338.4 70.2,340.3 72.1,341.3 72.6,342.3 72.6,345.3 71.9,346.3 68.5,347.3 60.4,348.3 49.0,349.1 49.0,338.0ZM919.0,338.2 919.0,349.1 811.0,349.1 804.0,348.1 801.4,347.3 800.9,346.3 804.7,344.3 811.0,342.7 894.0,342.5 906.0,340.8ZM652.0,339.1 665.0,338.6 690.0,339.9 694.7,340.3 700.0,341.3 699.5,342.3 691.0,343.4 664.0,343.4 652.5,342.3 650.2,341.3 649.9,340.3Z"/>
<path fill="#3c14dc" d="M739.0,120.1 741.0,120.2 743.0,121.2 743.5,122.3 743.1,123.3 741.9,124.3 740.0,125.0 739.0,125.0 737.4,124.3 736.7,123.3 736.6,122.3 737.0,121.3ZM340.0,162.1 343.5,162.3 346.6,163.3 348.1,164.3 348.7,165.3 348.4,166.3 347.0,167.4 344.0,168.4 340.0,168.8 338.0,168.2 336.1,166.3 336.0,165.3 337.4,163.3ZM412.0,165.0 414.0,165.8 414.9,167.3 415.6,170.3 415.8,174.3 415.6,178.3 415.0,180.3 414.0,181.6 412.0,182.6 410.9,182.3 409.2,180.3 408.6,176.3 408.9,171.3 409.8,167.3 411.0,165.4ZM784.0,166.1 786.0,165.8 788.0,166.3 790.4,168.3 791.7,170.3 792.1,172.3 791.6,174.3 790.0,176.2 788.0,177.3 786.0,177.3 785.0,176.6 783.1,174.3 782.2,172.3 781.7,170.3 781.8,168.3 782.2,167.3ZM57.0,256.3 62.0,255.8 73.0,257.1 96.0,260.8 106.0,265.3 111.6,267.3 131.0,271.5 138.0,273.6 142.0,275.5 148.3,279.3 150.8,281.3 151.1,282.3 150.5,283.3 149.2,284.3 145.4,286.3 142.0,287.7 138.0,288.8 123.0,291.0 98.0,293.5 86.0,293.3 73.0,292.6 63.0,291.5 55.0,290.0 52.0,288.9 49.0,287.2 49.0,259.7 53.0,257.4ZM357.0,256.1 362.0,255.7 366.0,256.6 369.0,258.5 369.9,260.3 369.7,261.3 369.0,262.4 367.0,264.2 363.0,266.4 354.0,266.8 350.5,266.3 348.2,263.3 347.8,261.3 348.2,260.3 348.9,259.3 351.0,257.8ZM331.0,260.2 335.0,260.6 338.0,262.0 339.2,263.3 339.3,264.3 338.9,265.3 337.4,266.3 334.0,267.0 331.0,267.0 328.0,266.2 326.8,265.3 326.2,264.3 326.0,263.3 326.4,262.3 328.0,261.0ZM919.0,261.9 919.0,286.8 916.0,285.3 915.0,284.1 914.4,282.3 916.3,275.3 917.9,265.3ZM610.0,278.3 616.0,277.8 618.0,278.2 621.4,280.3 622.0,281.3 621.9,282.3 619.0,284.1 616.0,284.6 604.0,283.5 600.4,282.3 599.4,281.3 600.4,280.3 603.0,279.3ZM661.0,288.3 690.0,287.3 702.0,287.9 713.0,289.1 731.0,293.9 748.0,301.0 751.0,301.6 760.0,302.5 763.0,302.4 769.0,300.7 785.0,294.2 788.0,294.1 797.0,295.0 803.0,297.1 809.0,300.6 818.7,308.3 820.6,310.3 821.0,311.3 820.8,312.3 819.4,314.3 815.0,318.6 801.4,327.3 798.0,328.1 785.0,329.5 772.0,332.8 762.0,333.6 696.0,332.3 679.0,332.4 664.0,333.0 641.0,332.8 635.6,331.3 631.0,329.0 625.4,322.3 615.4,312.3 615.0,311.3 615.2,310.3 616.0,309.1 628.1,298.3 630.0,296.3 632.0,293.3 634.0,291.8 637.0,290.7 641.0,290.0ZM218.0,292.3 220.0,293.1 225.4,297.3 230.0,299.9 236.0,304.1 242.0,306.9 254.0,307.3 267.0,305.8 280.0,305.7 303.0,307.7 310.7,310.3 312.0,311.3 312.1,312.3 310.4,314.3 308.0,316.3 303.0,319.1 290.0,320.8 279.0,321.3 268.0,321.1 254.0,319.4 244.0,318.8 230.0,320.1 219.0,318.9 215.0,317.4 211.0,314.9 208.1,312.3 207.2,310.3 209.0,303.5 211.7,297.3 215.0,293.7 217.0,292.5ZM893.0,292.2 897.0,291.6 906.0,292.1 907.8,293.3 908.4,295.3 908.2,296.3 907.3,297.3 905.6,298.3 898.0,301.0 894.0,301.9 882.0,301.7 878.0,300.3 875.3,298.3 875.0,297.3 876.1,296.3 878.7,295.3ZM436.0,310.1 440.0,309.9 444.0,310.3 446.6,311.3 447.2,312.3 447.0,313.3 445.2,315.3 443.0,316.5 440.0,317.1 437.0,316.8 435.0,315.5 433.8,313.3 433.7,312.3 434.0,311.3Z"/>
<path fill="#7814e6" d="M739.0,121.8 740.0,121.8 740.9,122.3 740.4,123.3 738.6,123.3 738.3,122.3ZM340.0,165.2 342.5,165.3 341.0,165.9 340.0,165.5ZM412.0,171.1 413.0,171.7 413.8,175.3 413.2,179.3 412.0,180.2 410.9,179.3 410.6,176.3 411.0,172.7ZM59.0,259.0 63.0,258.5 77.0,260.0 91.0,263.1 104.0,267.3 122.0,270.7 132.0,273.1 137.0,274.8 141.8,277.3 146.0,280.3 147.0,281.3 147.2,282.3 146.5,283.3 143.0,285.5 139.0,287.2 134.9,288.3 122.0,290.4 99.0,292.7 87.0,292.7 75.0,291.9 67.0,290.9 60.0,289.5 56.4,288.3 54.0,287.0 51.7,285.3 49.0,282.4 49.0,270.7 49.6,267.3 51.4,264.3 53.2,262.3 56.0,260.3ZM611.0,281.2 616.0,280.6 617.5,281.3 617.1,282.3 615.0,282.5 612.5,282.3 610.5,281.3ZM689.0,288.3 702.0,288.8 714.8,290.3 731.0,295.1 740.0,299.5 746.0,301.7 750.0,302.7 758.0,303.5 762.0,303.6 768.1,302.3 786.0,295.4 797.0,296.5 801.5,298.3 809.0,302.9 816.8,309.3 817.9,311.3 817.6,312.3 816.1,314.3 811.6,318.3 806.0,322.0 798.0,326.1 793.2,327.3 784.0,328.8 772.0,331.5 760.0,332.5 692.0,331.2 664.0,331.8 641.0,331.3 637.7,330.3 634.0,328.2 618.5,313.3 617.2,311.3 617.4,310.3 618.2,309.3 632.3,297.3 635.3,294.3 637.0,293.1 640.0,291.8 647.0,290.8 665.0,289.1ZM892.0,294.1 895.0,293.7 898.0,294.1 901.5,295.3 902.1,296.3 901.2,297.3 899.2,298.3 894.0,299.7 883.0,299.3 880.6,298.3 879.8,297.3 880.6,296.3 883.0,295.5ZM217.0,298.3 218.0,297.7 219.0,297.9 223.0,300.5 230.0,303.3 237.0,307.2 243.0,309.4 254.0,309.8 267.0,308.2 279.0,307.9 302.0,309.9 303.5,310.3 304.9,311.3 304.9,312.3 303.0,313.8 301.0,314.4 290.0,316.0 279.0,317.0 267.0,316.5 253.0,314.2 243.0,314.5 231.0,317.3 219.0,316.2 216.5,315.3 213.4,313.3 211.4,311.3 211.2,310.3 211.6,308.3 213.3,304.3ZM437.0,312.0 439.0,311.4 441.0,311.6 442.5,312.3 442.4,313.3 440.7,314.3 438.6,314.3 436.9,313.3 436.7,312.3Z"/>
<path fill="#a014d2" d="M61.0,261.3 74.0,261.8 96.0,267.3 124.0,272.3 133.0,274.7 136.8,276.3 143.1,280.3 144.0,281.3 144.1,282.3 143.0,283.5 140.0,285.3 133.0,287.6 121.0,289.8 100.0,292.0 93.0,292.2 81.0,291.6 72.0,290.7 64.8,289.3 61.0,288.1 57.0,286.2 53.3,283.3 52.1,281.3 52.4,273.3 53.4,267.3 54.7,265.3 57.0,263.3ZM686.0,289.3 701.0,289.6 715.0,291.3 728.5,295.3 738.0,300.3 742.0,301.9 748.0,303.6 752.0,304.2 761.0,304.8 765.0,304.3 773.0,302.1 786.0,296.9 795.0,297.9 799.0,299.0 806.0,303.1 812.8,308.3 814.6,310.3 814.9,311.3 814.6,312.3 813.0,314.2 808.1,318.3 802.0,322.1 797.0,324.2 789.6,326.3 771.0,330.5 762.0,331.4 751.0,331.5 735.0,331.4 691.0,330.0 664.0,330.6 642.0,329.8 639.9,329.3 636.7,327.3 628.0,319.9 621.2,313.3 619.7,311.3 620.0,310.3 620.9,309.3 628.0,303.1 638.0,295.2 641.0,293.5 648.0,292.2 664.4,290.3ZM218.0,304.9 220.0,304.6 230.0,306.6 237.5,310.3 238.4,311.3 237.6,312.3 235.4,313.3 230.0,314.7 218.0,313.3 216.0,312.0 215.1,310.3 216.0,307.6ZM273.0,311.2 278.0,310.8 281.5,311.3 280.0,312.3 278.0,312.4 275.5,312.3 272.3,311.3Z"/>
<path fill="#d214c8" d="M61.0,264.0 64.0,263.7 74.0,264.0 92.8,268.3 122.0,273.0 135.0,277.0 140.5,280.3 141.3,281.3 141.4,282.3 140.5,283.3 138.0,284.7 132.0,286.7 119.0,289.3 103.0,291.1 96.0,291.6 86.0,291.3 75.2,290.3 70.0,289.4 64.0,287.5 60.0,285.6 56.5,283.3 55.1,281.3 55.2,276.3 56.3,268.3 58.0,265.9ZM683.0,290.3 690.0,290.1 701.0,290.5 714.0,291.9 727.8,296.3 734.3,300.3 739.0,302.4 745.2,304.3 751.0,305.4 761.0,305.9 764.0,305.7 773.0,303.6 786.0,298.7 791.0,299.1 797.0,300.2 801.0,302.0 809.9,308.3 811.8,310.3 812.1,311.3 810.9,313.3 806.0,317.5 801.0,320.7 797.0,322.4 776.0,328.1 770.0,329.3 762.0,330.4 748.0,330.5 727.0,330.2 689.0,328.5 664.0,329.1 642.0,327.7 640.0,326.9 629.0,318.2 623.8,313.3 622.5,311.3 622.7,310.3 623.6,309.3 628.0,305.4 635.0,300.6 640.0,296.5 642.0,295.5 652.4,293.3 663.0,291.8ZM229.0,310.5 229.6,311.3 228.5,311.3Z"/>
<path fill="#b414aa" d="M65.0,266.3 74.0,266.2 83.8,268.3 109.0,271.8 121.0,274.0 134.0,278.0 137.8,280.3 138.7,281.3 138.8,282.3 136.0,284.2 132.0,285.5 119.7,288.3 105.0,290.3 98.0,290.9 91.0,290.9 82.1,290.3 74.0,289.2 67.9,287.3 62.0,284.6 59.8,283.3 58.1,281.3 58.3,275.3 59.7,268.3 60.5,267.3 62.0,266.5ZM682.0,291.3 690.0,291.0 700.0,291.4 714.0,292.9 724.7,296.3 732.0,301.2 737.0,303.5 743.0,305.2 750.0,306.5 760.0,307.1 764.0,306.9 773.0,305.0 786.0,300.4 791.0,300.9 797.0,302.0 800.0,303.3 807.2,308.3 809.1,310.3 809.4,311.3 808.1,313.3 806.0,315.3 803.0,317.6 799.0,320.0 794.0,321.6 782.0,324.3 772.4,327.3 762.0,329.2 740.0,329.5 717.0,328.5 690.0,326.2 678.0,326.1 665.0,327.0 643.0,325.0 640.0,323.7 635.0,319.7 629.0,315.6 626.5,313.3 625.2,311.3 625.4,310.3 626.3,309.3 629.0,307.0 635.0,303.3 641.0,298.8 643.0,297.9 652.9,295.3 663.4,293.3 673.0,291.9Z"/>
<path fill="#96109a" d="M69.0,269.2 72.0,268.6 74.0,268.6 80.0,269.6 104.9,272.3 115.0,274.0 122.0,275.5 133.0,279.1 135.2,280.3 136.2,281.3 136.2,282.3 135.0,283.3 133.0,284.1 121.0,286.9 114.0,288.3 101.0,290.1 96.0,290.4 88.0,290.1 76.0,288.4 72.0,287.3 65.0,284.1 62.0,282.4 61.1,281.3 61.1,277.3 62.4,273.3 65.0,270.8ZM683.0,292.3 690.0,292.0 700.0,292.3 714.0,293.8 721.4,296.3 723.3,297.3 729.0,301.8 734.0,304.3 740.7,306.3 750.0,307.8 761.0,308.2 765.0,307.9 773.0,306.4 786.0,302.1 791.0,302.5 797.0,303.6 800.0,305.0 805.8,309.3 806.8,311.3 805.6,313.3 801.0,317.2 798.0,318.9 794.0,320.1 778.0,322.9 769.0,326.3 763.0,327.7 740.0,328.4 722.4,327.3 701.0,324.3 691.0,323.5 678.0,323.3 665.0,324.1 643.0,321.6 641.0,321.0 630.0,313.6 628.4,312.3 627.9,311.3 628.2,310.3 629.2,309.3 642.0,301.4 659.1,296.3 668.0,294.2 676.0,292.8Z"/>
<path fill="#6a0e6a" d="M71.0,272.2 74.0,271.4 85.0,271.7 99.0,272.7 108.0,273.9 123.0,277.2 131.8,280.3 133.4,281.3 133.3,282.3 131.1,283.3 122.0,285.5 102.0,289.2 95.0,289.6 84.0,288.8 77.2,287.3 73.0,285.9 67.2,283.3 64.8,281.3 64.7,279.3 66.0,276.3 68.0,274.1ZM686.0,293.2 701.0,293.4 715.0,295.1 719.9,297.3 724.1,301.3 729.0,304.5 735.0,306.7 741.0,308.0 751.0,309.1 761.0,309.4 765.0,309.2 773.0,307.8 784.0,304.0 787.0,303.5 793.0,304.2 798.0,305.5 803.0,308.9 804.2,310.3 804.5,311.3 803.3,313.3 799.7,316.3 797.0,317.7 793.0,318.9 786.0,320.1 773.0,320.8 770.0,321.8 764.7,325.3 761.1,326.3 740.0,326.9 727.0,325.7 711.0,322.7 701.0,321.3 688.0,320.5 665.0,320.9 644.0,318.4 642.0,318.0 640.0,317.0 632.9,312.3 632.1,311.3 632.5,310.3 633.9,309.3 642.0,304.6 658.0,300.2 671.0,295.2 677.0,293.9Z"/>
<path fill="#500a50" d="M84.0,273.3 97.0,273.7 109.0,275.2 122.0,278.3 128.9,281.3 128.7,282.3 122.1,284.3 101.9,288.3 96.0,288.8 88.2,288.3 83.0,287.3 72.0,283.8 69.2,282.3 68.4,281.3 68.6,279.3 69.8,277.3 71.7,275.3 73.0,274.5 76.0,273.9ZM688.0,294.3 702.0,294.5 714.0,296.0 716.5,297.3 720.5,302.3 724.7,305.3 731.0,307.8 739.0,309.5 751.0,310.7 764.0,310.9 772.0,309.5 784.0,305.4 787.0,304.9 793.0,305.6 798.0,307.1 801.2,309.3 802.3,311.3 801.1,313.3 798.0,315.7 791.0,318.0 787.0,318.6 783.0,318.6 772.0,316.8 767.0,316.6 764.0,317.3 752.6,323.3 751.0,323.8 748.0,324.3 740.0,324.4 737.0,324.1 731.0,321.9 727.0,321.0 714.0,319.2 690.0,317.8 666.0,317.6 653.0,316.3 642.0,314.6 639.4,313.3 637.4,311.3 637.7,310.3 639.0,309.3 642.0,307.8 658.0,304.1 665.0,302.0 671.7,297.3 673.7,296.3 678.0,295.2Z"/>
</g>
<g clip-path="url(#m)" fill="none" stroke="#420850" stroke-width="1.9" stroke-linejoin="round" stroke-linecap="round">
<path d="M71.5,92.7 70.3,95.3 71.5,98.8 72.4,100.6 73.6,102.0 75.8,104.6 77.5,106.9 78.5,109.6 78.7,110.7 79.9,113.3 81.1,117.1 80.4,119.1 81.1,120.6 82.3,124.4 82.3,127.6 81.6,129.3 79.4,131.9 78.5,135.4 77.8,138.9 77.5,141.5 77.5,143.5 77.8,146.1 79.4,148.5 81.1,153.4 83.6,157.8 84.0,159.8 84.0,163.0 85.0,168.2 85.7,171.1 87.4,174.3 88.9,176.3 90.3,179.5 91.5,182.4 93.0,185.6 92.5,188.2 93.5,190.9 93.5,192.6 94.7,192.6 95.9,193.8 97.3,194.3 99.8,193.2 102.6,192.3 105.8,192.0 109.2,192.3 111.1,192.0 114.0,190.9 116.4,189.1 119.1,186.2 121.7,183.3 123.9,180.1 125.8,177.2 127.5,175.5 128.5,171.7 128.5,169.1 127.8,168.5 129.0,166.5 132.4,165.3 134.8,162.7 134.8,157.8 133.8,154.3 132.9,151.4 135.0,148.5 138.2,145.3 141.1,143.2 144.5,141.2 147.1,138.3 147.6,135.4 146.9,131.0 146.9,126.7 146.6,123.8 145.2,120.9 144.5,118.0 144.0,114.5 144.5,113.0 143.0,111.3 143.2,107.8 144.7,105.2 146.2,102.0 147.8,100.0 149.5,97.9 151.7,94.8 152.9,92.4M168.1,128.1 169.6,131.0 170.6,135.4 171.0,138.0 169.3,138.6 169.1,141.5 168.6,144.1 168.4,146.1 167.2,150.8 166.0,155.1 164.8,159.5 163.1,165.0 160.7,166.5 158.2,167.6 155.8,166.2 154.6,163.0 153.6,158.9 153.6,156.6 154.8,153.7 156.3,150.8 155.6,147.3 155.3,144.1 156.5,140.6 159.0,139.5 161.1,138.6 163.1,136.8 164.8,134.5 165.0,132.5 166.9,130.5 168.1,128.1M393.4,124.4 395.3,129.0 396.0,133.9 398.4,135.1 400.1,138.3 401.4,142.4 402.1,145.6 403.8,149.0 406.7,151.4 409.6,154.6 411.0,158.0 413.4,158.9 413.7,161.5 415.9,163.6 418.5,166.5 419.0,171.7 420.0,175.2 419.5,178.9 418.8,182.4 418.0,185.6 415.9,188.8 414.4,191.7 413.4,194.9 412.0,197.8 411.3,202.2 407.1,203.3 404.7,204.8 402.8,206.8 400.6,205.1 399.2,203.6 397.7,204.8 395.8,205.9 392.2,204.8 389.0,203.6 387.1,201.0 386.4,197.8 383.9,196.7 383.7,194.3 382.3,192.6 380.1,195.5 381.3,192.0 382.0,187.9 380.6,190.9 378.1,193.5 376.9,194.6 375.5,192.0 373.3,189.1 372.1,186.8 368.5,186.2 365.6,184.8 360.8,185.3 355.9,187.1 352.3,188.2 349.1,189.4 347.5,191.7 343.6,191.7 339.0,192.0 335.4,194.3 333.9,194.9 329.8,194.6 327.2,192.9 326.9,190.9 328.4,190.0 328.6,186.2 327.6,183.3 326.9,180.4 325.9,176.9 324.5,173.1 322.8,169.4 323.3,165.9 323.8,163.0 323.8,158.9 325.0,156.6 326.2,156.9 328.1,155.1 331.3,153.1 335.6,152.2 339.0,151.1 342.6,148.5 344.3,145.6 344.3,142.7 346.2,141.2 347.7,143.5 347.9,140.6 349.9,138.3 351.6,135.7 353.5,133.9 355.9,133.7 358.3,136.3 358.8,137.4 360.8,136.3 362.2,133.9 363.2,132.2 364.1,129.9 365.3,129.3 366.8,128.7 369.2,128.4 369.4,126.4 371.6,127.6 375.2,128.7 378.9,128.1 379.8,129.0 378.9,131.9 377.4,133.9 376.5,136.8 378.9,139.2 381.3,140.3 384.9,142.4 386.4,144.1 389.3,144.1 390.5,139.8 391.2,135.4 391.2,131.0 391.9,128.1 392.6,125.2 393.4,124.4M398.7,211.5 403.0,212.6 407.1,211.8 407.4,215.2 406.7,218.1 405.0,218.4 403.8,219.9 401.8,219.6 400.1,216.7 399.4,214.4 398.7,211.5M466.4,193.2 468.1,194.9 470.2,196.4 471.4,200.1 473.1,199.6 474.1,200.7 475.5,202.8 478.0,203.3 480.4,202.8 479.2,205.7 478.0,206.8 476.8,208.0 476.3,210.9 474.3,213.2 472.6,214.1 471.4,213.2 472.2,211.5 472.4,209.4 470.7,208.6 469.0,207.4 470.0,206.5 470.9,205.7 471.4,203.0 470.7,200.7 470.0,199.0 468.3,196.4 467.1,194.9 466.4,193.2M466.4,210.9 467.1,212.9 469.3,212.3 470.2,214.1 469.5,215.2 468.8,216.4 467.1,218.4 466.6,219.9 467.3,220.5 464.7,221.0 463.0,222.2 462.2,223.9 461.5,226.6 459.4,228.3 456.0,228.6 453.8,227.4 451.4,226.9 452.1,224.5 453.8,222.5 455.7,221.0 458.6,219.6 461.0,218.1 462.7,216.4 463.5,214.4 464.9,212.0 466.4,210.9M365.6,95.6 369.2,94.5 372.8,95.6 373.3,97.7 373.3,100.6 374.8,102.9 376.5,102.9 378.9,99.7 381.3,97.9 384.4,98.8 389.0,100.8 391.0,101.1 393.4,102.6 396.0,103.5 398.2,104.6 401.4,107.8 403.0,109.8 404.7,110.7 406.2,111.6 406.4,112.8 404.2,112.8 404.7,115.1 406.7,116.5 408.1,119.4 410.3,121.5 412.7,123.2 413.4,124.1 411.5,124.1 409.1,122.9 406.2,122.3 404.7,120.9 403.0,119.4 401.8,117.1 399.4,115.9 397.5,115.4 395.8,117.1 395.1,119.4 393.4,120.0 391.0,119.7 388.5,117.7 386.1,116.8 383.7,117.4 382.5,115.1 383.7,113.0 384.4,110.7 382.5,109.3 380.1,107.5 377.7,106.4 375.2,106.1 372.8,104.6 371.1,104.9 369.9,103.5 369.9,101.7 371.6,100.6 372.4,99.7 369.2,100.0 368.0,99.1 366.8,97.7 365.6,95.6M389.8,100.8 389.8,112.2 389.8,119.7M290.2,92.4 291.6,96.2 293.1,99.1 296.2,104.3 299.1,107.5 301.5,110.1 303.5,110.4 304.7,110.1 304.9,106.4 305.2,102.6 302.8,100.0 301.5,98.5 301.1,96.2 299.1,95.6 299.6,92.4M303.2,113.0 305.2,110.4 307.1,110.7 310.7,111.6 311.4,113.0 315.8,113.3 317.2,111.9 321.1,113.3 321.6,114.2 324.5,115.7 325.7,115.9 325.7,118.6 322.1,117.4 318.5,117.4 314.8,116.2 311.2,115.7 307.6,115.1 306.1,114.5 303.2,113.0M312.4,92.4 312.9,96.2 314.8,97.7 315.3,101.4 318.5,102.0 322.1,102.9 325.7,103.5 326.9,104.9 329.3,104.3 330.5,100.6 330.5,97.7 333.0,95.6 333.0,92.4M338.5,92.4 338.5,95.6 337.3,97.7 336.1,101.4 337.3,103.5 337.8,106.4 337.6,109.3 339.7,109.6 340.0,107.2 340.0,103.5 341.4,101.1 342.6,103.5 343.1,106.7 345.8,106.4 345.0,103.5 344.3,101.4 343.3,99.1 345.8,95.9 347.2,95.9 343.8,95.6 341.9,96.8 340.4,96.2 339.2,94.2 340.2,92.4M326.9,117.1 328.6,117.7 327.4,118.8 326.9,117.1M329.3,117.7 331.0,117.7 330.3,119.1 329.3,117.7M331.3,118.0 334.2,117.1 336.6,117.7 335.4,118.8 331.8,119.4 331.3,118.0M338.8,118.0 342.6,118.0 346.0,117.4 345.0,118.8 340.2,118.8 338.8,118.0M336.6,120.9 339.0,120.6 340.9,122.6 338.0,122.0 336.6,120.9M347.5,123.2 349.9,120.3 352.3,118.6 356.4,117.7 354.7,119.4 351.1,121.5 348.7,123.2 347.5,123.2M358.3,102.0 362.0,101.4 365.1,102.9 362.7,103.2 359.5,103.2 358.3,102.0M353.5,102.6 355.9,102.6 356.2,104.0 354.0,104.3 353.5,102.6M356.9,92.4 357.8,94.2 358.8,95.6 358.1,94.5 359.3,92.4M373.3,109.3 374.5,110.1 374.3,113.0 373.1,111.6 373.3,109.3M366.1,114.5 367.3,115.1 366.8,116.8 365.8,115.9 366.1,114.5M407.4,109.6 410.3,109.3 412.7,109.3 415.1,107.8 417.1,105.5 416.3,107.5 413.9,110.7 411.5,111.6 409.1,111.0 407.4,109.6M413.4,100.8 415.9,102.6 418.3,104.9 419.0,106.9 417.8,105.8 415.1,102.9 413.4,100.8M422.6,109.0 424.3,110.4 425.8,113.0 424.3,112.5 422.9,110.4 422.6,109.0M427.2,112.8 429.6,114.5 428.4,114.2 427.2,112.8M432.0,115.4 435.2,117.7 433.2,117.1 432.0,115.4M434.7,120.3 437.6,121.8 436.1,122.0 434.7,120.3M437.1,117.7 439.1,120.9 438.1,119.4 437.1,117.7M438.8,123.2 441.2,124.4 440.0,124.1 438.8,123.2M445.3,151.7 449.0,154.3 452.3,157.8 450.6,157.5 447.3,154.3 445.3,151.7M451.6,136.8 453.1,138.6 452.1,138.6 451.6,136.8M453.3,139.8 454.5,141.2 453.6,141.2 453.3,139.8M455.5,144.4 456.2,145.0 455.7,145.0 455.5,144.4M477.5,144.4 479.6,143.8 480.6,145.6 478.2,146.1 477.5,144.4M480.6,141.8 483.5,140.6 482.8,142.1 480.6,141.8M215.3,235.0 219.1,235.3 219.4,237.3 216.2,237.6 215.3,235.0M216.2,235.9 218.7,236.4M770.9,242.8 774.0,242.5 775.2,244.3 772.1,244.9 770.9,242.8M775.7,242.5 779.3,243.1 777.6,245.1 775.7,242.5M827.2,250.1 832.0,251.5 830.8,252.4 827.2,250.1M725.4,92.4 724.5,96.2 723.5,99.7 725.7,100.6 726.1,102.0 724.7,103.5 722.5,106.7 723.2,110.1 725.7,112.5 726.9,115.1 729.0,119.4 731.0,123.8 732.7,128.1 734.6,132.8 737.3,137.4 741.4,140.6 745.0,142.7 746.7,144.4 749.1,146.7 749.6,151.9 749.4,157.2 748.9,161.8 748.4,167.0 747.7,171.7 746.7,177.5 746.2,180.4 746.0,184.8 746.0,189.1 745.0,193.5 743.1,197.8 742.1,200.7 741.1,205.1 741.6,209.4 740.6,213.8 739.7,216.7 739.4,219.6 741.9,221.0 739.0,223.9 736.5,228.3 739.0,231.2 737.0,235.6 736.5,239.9 738.2,244.3 740.6,247.2 745.0,250.1 748.6,253.0 756.4,255.6 761.4,252.1 758.3,250.1 754.2,247.2 753.7,245.4 752.2,243.1 753.9,239.0 755.6,236.4 760.0,232.7 760.0,230.3 755.9,226.9 757.1,224.5 760.7,223.4 761.4,219.6 763.6,217.6 765.3,216.7 761.9,215.2 761.9,211.8 768.4,211.8 768.7,206.5 774.0,205.9 780.0,203.6 782.0,199.3 780.5,196.4 777.9,193.8 779.3,193.2 783.2,194.6 786.3,194.6 789.7,192.0 793.1,186.8 796.5,181.9 798.9,178.4 801.5,174.6 801.5,170.2 802.0,167.3 805.4,164.1 807.1,163.0 810.2,161.5 814.6,160.1 817.5,159.8 819.9,157.2 820.2,154.3 821.6,152.2 823.1,148.5 824.3,145.0 824.8,139.8 824.8,136.3 826.0,131.0 828.4,126.7 829.6,124.9 832.0,122.3 832.7,121.2 834.7,116.5 834.9,113.9 833.9,110.1 833.7,108.4 830.8,108.1 828.4,106.7 826.0,104.0 822.8,102.0 818.7,101.7 815.1,100.6 811.9,100.6 809.0,97.7 806.6,96.2 803.0,95.3 801.8,97.7 800.6,96.2 798.2,93.9 797.0,92.4M738.2,246.0 742.6,248.0 747.4,249.8 747.7,247.2 749.1,246.3 751.0,245.7 753.7,245.4M49.0,300.1 58.4,298.2 67.7,296.6 73.9,297.4 80.2,296.3 95.8,296.6 103.6,296.9 114.5,295.8 127.0,294.3 131.6,291.9 136.3,294.3 142.5,295.8 145.7,293.5 155.0,290.4 164.4,288.0 173.7,284.9 180.0,283.8 186.2,285.7 194.0,288.0 194.0,288.0 209.6,288.8 217.4,289.6 218.2,294.3 213.5,296.6 211.9,302.1 217.4,302.5 222.8,298.2 231.4,295.1 239.2,291.2 248.6,288.0 259.5,286.5 272.0,285.4 281.3,286.0 290.7,284.9 300.0,283.4 309.4,285.7 318.7,284.9 323.4,283.4 331.2,286.0 339.0,287.0 339.0,287.0 348.4,286.0 354.6,285.4 362.4,285.7 372.5,284.5 374.5,281.8 376.4,284.5 385.8,285.4 398.2,288.0 407.6,290.4 420.1,292.7 432.5,295.1 448.1,297.4 457.5,299.0 462.2,300.5 459.8,304.4 448.1,308.3 441.9,312.2 443.5,316.9 451.3,318.5 457.5,317.2 448.1,320.0 438.8,322.3 432.5,326.2 437.2,327.0 438.8,329.4 448.1,332.5 463.7,335.6 484.0,337.9 484.0,337.9 515.2,339.5 538.6,340.6 557.3,339.5 583.8,339.5M551.0,337.9 549.5,334.0 552.6,332.5 546.4,329.4 540.1,329.1 562.0,328.6 566.6,326.2 562.0,323.9 551.0,321.6 541.7,320.8 537.8,317.7 546.4,316.9 552.6,317.7 562.0,316.1 568.2,313.8 577.5,312.2 590.0,309.9 602.5,308.8 611.8,306.0 629.0,307.2 629.0,307.8 644.6,308.8 660.2,309.9 678.9,309.1 699.2,307.8 722.5,305.2 728.8,303.6 738.1,304.4 747.5,303.6 756.1,302.1 753.7,298.2 747.5,293.5 741.3,295.8 736.6,298.2M523.8,323.1 529.2,321.6 535.5,323.1 530.8,325.0 523.8,323.1M714.8,320.0 730.3,324.7 747.5,327.0 774.0,330.9 774.0,334.0 789.6,330.9 816.1,330.1 836.4,327.0 848.8,326.2 852.0,323.1 836.4,322.3 831.7,320.8 836.4,318.5 852.0,316.1 867.5,313.8 875.3,312.2 880.0,307.5 889.4,302.1 898.7,299.0 911.2,298.2 919.0,300.5M786.5,327.0 797.4,321.6 809.9,320.0 813.0,323.9 805.2,327.0 789.6,327.8 786.5,327.0M817.7,321.6 828.6,321.6M749.0,292.4 752.0,292.0 757.0,300.0 755.9,304.3 746.2,305.7 733.6,307.1 723.8,307.1M714.0,317.5 722.0,320.5 735.0,326.0M828.6,250.5 833.2,251.4M852.0,255.2 855.1,259.9 854.1,265.2M806.7,268.6 813.0,268.6"/>
<path stroke-width="1.6" d="M77.5,143.5 81.6,143.8 93.7,143.8 100.7,145.3 105.5,144.4 110.1,145.0M105.5,144.4 102.2,140.3 102.2,131.0 107.0,131.0 107.0,125.2 102.6,125.2 101.7,114.5 97.3,116.2 96.1,113.6 90.1,113.6 89.1,110.4 80.4,110.4 78.7,110.7M99.8,146.4 99.8,157.2 97.3,157.2 97.3,165.3 97.3,175.8 94.9,177.2 91.3,176.6 88.9,176.3M97.3,165.3 99.0,171.1 102.2,169.7 104.6,166.8 110.6,167.9 114.0,162.1 116.7,159.5 120.0,157.8 124.6,158.3M110.1,145.0 112.3,149.9 115.9,152.8 120.0,157.8M124.6,158.3 127.3,155.1 128.8,150.8 128.5,145.6 128.8,141.8 122.5,138.6M110.1,145.0 114.2,145.6 118.6,141.2 122.5,138.6M124.6,158.3 126.3,164.4 126.3,171.1 128.5,171.4M122.5,138.6 122.0,136.3 129.2,133.9 128.5,132.5 128.8,129.6 129.5,127.0 129.5,124.7 128.8,120.9M132.9,134.8 135.8,136.6 135.5,139.8 134.3,142.1 134.3,142.9 132.1,140.3 132.4,135.7 129.2,133.9M146.6,123.8 140.8,126.1 135.5,126.7 132.6,126.7M143.7,106.9 140.1,103.5 139.9,102.0 131.2,96.2 122.7,96.2 120.5,97.4 119.1,101.1 119.8,103.2M122.7,96.2 123.4,100.3 122.5,100.3 122.7,102.9 121.5,106.1 120.0,106.1M125.8,94.8 128.3,93.6 131.2,94.2 131.4,96.8 130.0,99.7 128.3,100.6 126.3,100.6 125.6,97.7 125.8,94.8M119.8,103.2 120.5,107.8 121.0,112.2 123.2,116.5 124.2,118.6 122.5,117.1 120.0,113.0 119.3,107.8 119.8,103.2M131.2,121.2 132.6,125.2 133.3,131.0 134.1,134.8 132.6,133.9 131.9,129.6 131.4,125.2 131.2,121.2M107.0,125.2 110.1,125.8 111.8,127.8 114.7,127.0 117.6,129.6 119.1,132.2 121.0,132.2 121.0,128.7 117.6,127.6 118.1,123.8 118.4,119.4 118.8,118.0 123.2,117.1 128.5,120.6 128.8,120.9 131.2,121.2M80.7,106.7 83.8,107.5 86.0,105.8 88.2,99.7 92.0,94.8 92.3,92.4M75.8,104.6 77.8,104.0 78.0,100.3 80.4,100.3 83.8,100.0 84.0,95.0 82.6,92.4M78.0,107.8 80.7,106.7M114.2,179.2 115.9,177.2 118.4,176.3 120.0,178.7 119.3,180.7 117.1,182.1 115.2,181.3 114.2,179.2M123.9,168.8 126.1,168.5 126.6,171.1 124.6,172.6 123.4,170.8 123.9,168.8M131.2,96.2 131.2,92.4M120.5,97.4 120.8,92.4M725.2,103.2 724.7,106.1 727.1,107.2 729.3,103.5 737.3,93.9 740.2,100.0 749.8,105.5 751.0,94.8 749.8,92.4M749.8,105.5 742.6,107.8 740.2,114.5 743.3,120.9 748.6,120.9 748.4,125.2 751.3,125.2M751.3,125.2 752.7,129.6 752.2,134.5 751.3,137.7 752.2,140.6 751.0,144.1 750.1,146.4 749.1,146.6M751.3,125.2 761.2,121.8 761.0,125.2 763.1,129.6 769.2,132.5 772.8,133.1 773.5,140.6 778.4,140.6 780.0,145.0 779.3,150.8 778.4,151.9 774.0,149.3 768.7,157.2 767.7,157.8 764.3,157.2 761.9,159.5 757.1,157.2 756.8,159.8M756.8,159.8 754.7,154.3 753.5,149.9 751.0,144.1M756.8,159.8 753.5,165.9 753.9,171.7 751.0,177.5 749.8,183.3 749.8,189.1 749.4,194.9 747.4,202.2 746.2,208.0 745.5,215.2 745.7,221.0 746.0,228.3 744.0,235.6 742.6,240.5 744.3,244.3 753.5,245.1 753.2,246.3 753.2,252.7M767.7,157.8 771.6,163.0 779.8,166.8 777.6,172.6 783.7,172.6 787.0,167.6 787.8,163.0 784.6,162.7 784.4,158.0 778.8,157.8 778.8,151.9 778.4,151.9M787.0,167.6 789.2,171.1 784.9,175.2 779.8,181.0 778.8,190.6 777.9,192.0M779.8,181.0 783.7,183.3 789.7,191.1"/>
<path stroke-width="4.4" d="M785.3,275.4 778.0,275.6 770.0,277.6 763.0,281.0 757.0,285.0 752.0,289.5"/>
<path stroke-width="3.0" d="M744.5,293.5 739.0,295.5 734.0,298.0 735.0,300.5 729.0,303.0"/>
<path stroke-width="3.0" d="M765.7,291.0 769.9,295.5 772.2,302.0"/>
<path stroke-width="2.4" d="M757.0,288.5 762.0,290.0 766.0,291.0"/>
<path fill="#420850" stroke-width="1.5" d="M740.4,213.2 739.2,219.6 737.0,225.4 735.8,229.8 735.8,235.0 736.1,239.9 737.3,244.9 740.2,248.0 745.0,251.2 749.8,253.9 756.4,255.9 761.9,253.0 763.9,252.1 759.5,250.7 755.1,250.1 751.0,248.3 747.9,246.0 746.0,242.2 744.3,238.5 743.1,234.1 743.5,228.3 744.0,222.5 744.0,218.1 743.5,214.7Z"/>
<path stroke-width="4.6" d="M785.5,275.2h0.01"/>
<path stroke-width="5.2" d="M782.0,274.3h0.01"/>
<path stroke-width="6.4" d="M778.5,275.3h0.01"/>
<path stroke-width="5.2" d="M775.0,275.8h0.01"/>
<path stroke-width="6.7" d="M771.5,277.2h0.01"/>
<path stroke-width="5.5" d="M768.0,278.2h0.01"/>
<path stroke-width="6.7" d="M765.5,280.3h0.01"/>
<path stroke-width="5.2" d="M762.5,281.5h0.01"/>
<path stroke-width="6.7" d="M760.0,283.8h0.01"/>
<path stroke-width="5.5" d="M757.0,285.2h0.01"/>
<path stroke-width="6.4" d="M755.0,287.8h0.01"/>
<path stroke-width="5.8" d="M752.5,289.8h0.01"/>
<path stroke-width="3.8" d="M779.0,277.5h0.01"/>
<path stroke-width="3.8" d="M772.0,274.8h0.01"/>
<path stroke-width="3.8" d="M766.0,277.0h0.01"/>
<path stroke-width="3.5" d="M760.0,280.5h0.01"/>
<path stroke-width="2.9" d="M787.5,273.0h0.01"/>
<path stroke-width="3.5" d="M770.0,280.5h0.01"/>
<path stroke-width="3.5" d="M763.5,284.5h0.01"/>
<path stroke-width="4.3" d="M745.0,293.3h0.01"/>
<path stroke-width="4.9" d="M741.0,295.0h0.01"/>
<path stroke-width="4.9" d="M737.0,296.5h0.01"/>
<path stroke-width="5.2" d="M734.5,299.5h0.01"/>
<path stroke-width="4.3" d="M737.5,301.0h0.01"/>
<path stroke-width="4.9" d="M731.0,302.5h0.01"/>
<path stroke-width="4.3" d="M727.0,304.0h0.01"/>
<path stroke-width="4.3" d="M750.0,292.5h0.01"/>
<path stroke-width="3.8" d="M753.5,294.0h0.01"/>
<path stroke-width="4.1" d="M756.5,298.0h0.01"/>
<path stroke-width="4.3" d="M756.5,302.0h0.01"/>
<path stroke-width="3.8" d="M752.0,304.5h0.01"/>
<path stroke-width="3.8" d="M747.0,305.2h0.01"/>
<path stroke-width="3.5" d="M741.0,305.5h0.01"/>
<path stroke-width="4.3" d="M766.0,291.5h0.01"/>
<path stroke-width="4.6" d="M768.5,294.0h0.01"/>
<path stroke-width="4.6" d="M770.5,297.5h0.01"/>
<path stroke-width="4.3" d="M771.5,301.0h0.01"/>
<path stroke-width="2.6" d="M153.6,127.3h0.01M156.3,128.7h0.01M158.2,130.5h0.01M183.1,106.7h0.01M160.9,120.6h0.01M188.0,151.9h0.01M183.1,154.6h0.01M202.2,150.5h0.01M224.0,114.5h0.01M217.4,236.7h0.01M226.6,247.5h0.01M236.3,203.0h0.01M140.3,229.5h0.01M173.9,228.0h0.01M282.9,128.4h0.01M304.4,123.8h0.01M433.5,184.8h0.01M454.8,177.5h0.01M450.2,240.5h0.01M457.9,245.7h0.01M481.1,237.6h0.01M492.5,221.0h0.01M433.0,251.8h0.01M503.8,133.4h0.01M502.1,132.8h0.01M506.5,134.8h0.01M495.6,154.9h0.01M498.5,147.6h0.01M508.4,148.5h0.01M532.8,154.9h0.01M537.4,156.9h0.01M552.9,142.1h0.01M557.7,144.4h0.01M557.0,144.1h0.01M567.4,139.8h0.01M573.4,142.7h0.01M580.4,119.1h0.01M583.1,121.8h0.01M583.3,156.6h0.01M592.8,160.4h0.01M604.6,166.2h0.01M654.6,172.0h0.01M488.8,145.6h0.01M505.3,120.0h0.01M529.9,123.5h0.01M538.6,87.8h0.01M542.2,104.9h0.01M556.0,122.0h0.01M482.1,118.0h0.01M474.6,111.6h0.01M452.3,94.8h0.01M458.6,95.9h0.01M467.1,97.4h0.01M471.2,99.1h0.01M504.1,101.4h0.01M497.3,106.4h0.01M700.3,95.0h0.01M698.8,94.8h0.01M702.7,95.9h0.01M728.6,190.9h0.01M725.7,169.7h0.01M889.3,201.0h0.01M895.1,210.3h0.01M905.2,139.8h0.01M884.2,116.2h0.01M848.2,152.8h0.01M840.7,104.5h0.01M855.0,261.1h0.01M853.3,256.8h0.01M809.0,269.2h0.01M785.6,270.7h0.01M57.2,251.2h0.01M700.0,293.0h0.01M479.3,141.3h0.01M481.8,143.5h0.01M484.0,146.0h0.01M478.4,145.4h0.01M491.8,132.0h0.01M501.2,132.9h0.01M507.4,133.5h0.01M493.4,149.1h0.01M498.0,147.6h0.01M507.4,148.5h0.01M473.1,96.1h0.01M476.2,128.9h0.01M482.4,117.3h0.01M537.0,119.5h0.01M543.2,108.6h0.01M544.8,104.8h0.01M562.0,138.2h0.01M564.1,139.8h0.01M566.6,140.4h0.01M569.1,141.6h0.01M571.3,139.2h0.01M572.9,142.3h0.01M561.0,142.3h0.01M546.4,139.8h0.01M551.0,141.3h0.01M554.2,158.5h0.01M549.5,159.1h0.01M563.5,155.4h0.01M569.8,153.8h0.01M579.1,139.8h0.01M583.8,142.9h0.01M585.3,147.6h0.01M588.5,146.0h0.01M580.7,150.7h0.01M582.2,156.9h0.01M588.5,155.4h0.01M591.6,157.9h0.01M607.2,158.5h0.01M582.2,121.1h0.01M585.3,122.6h0.01M569.8,172.5h0.01M488.7,177.2h0.01M495.5,154.1h0.01M498.7,146.6h0.01"/>
</g>
<rect x="577" y="96.1" width="338.5" height="22.8" fill="#fff"/>
<rect x="49" y="92" width="870.5" height="2" fill="#420850"/>
<rect x="49" y="354" width="870.5" height="1.5" fill="#420850"/>
<path d="M44.5,93.3H49M44.5,122.3H49M44.5,151.4H49M44.5,180.4H49M44.5,209.4H49M44.5,238.5H49M44.5,267.5H49M44.5,296.5H49M44.5,325.6H49M44.5,354.6H49M49.0,355V360M194.0,355V360M339.0,355V360M484.0,355V360M629.0,355V360M774.0,355V360M919.0,355V360" stroke="#000" stroke-width="1.3" fill="none"/>
<g stroke="#000" stroke-width="1.2" stroke-linejoin="miter">
<path d="M170.0,461.6L145,468.8L170.0,476.0Z" fill="#500a50"/>
<rect x="170.0" y="461.6" width="26.1" height="14.4" fill="#6a0e6a"/>
<rect x="196.1" y="461.6" width="26.1" height="14.4" fill="#96109a"/>
<rect x="222.2" y="461.6" width="26.1" height="14.4" fill="#b414aa"/>
<rect x="248.3" y="461.6" width="26.1" height="14.4" fill="#d214c8"/>
<rect x="274.4" y="461.6" width="26.1" height="14.4" fill="#a014d2"/>
<rect x="300.5" y="461.6" width="26.1" height="14.4" fill="#7814e6"/>
<rect x="326.6" y="461.6" width="26.1" height="14.4" fill="#3c14dc"/>
<rect x="352.7" y="461.6" width="26.1" height="14.4" fill="#0f46dc"/>
<rect x="378.8" y="461.6" width="26.1" height="14.4" fill="#0f6ec8"/>
<rect x="404.9" y="461.6" width="26.1" height="14.4" fill="#1e96e6"/>
<rect x="431.0" y="461.6" width="26.1" height="14.4" fill="#00f5f5"/>
<rect x="457.1" y="461.6" width="26.1" height="14.4" fill="#ffffff"/>
<rect x="483.2" y="461.6" width="26.1" height="14.4" fill="#ffffff"/>
<rect x="509.3" y="461.6" width="26.1" height="14.4" fill="#32dc14"/>
<rect x="535.4" y="461.6" width="26.1" height="14.4" fill="#8cdc14"/>
<rect x="561.5" y="461.6" width="26.1" height="14.4" fill="#b4dc14"/>
<rect x="587.6" y="461.6" width="26.1" height="14.4" fill="#dcdc1e"/>
<rect x="613.7" y="461.6" width="26.1" height="14.4" fill="#fae11e"/>
<rect x="639.8" y="461.6" width="26.1" height="14.4" fill="#ffff00"/>
<rect x="665.9" y="461.6" width="26.1" height="14.4" fill="#ffc81e"/>
<rect x="692.0" y="461.6" width="26.1" height="14.4" fill="#ffa500"/>
<rect x="718.1" y="461.6" width="26.1" height="14.4" fill="#ff8c14"/>
<rect x="744.2" y="461.6" width="26.1" height="14.4" fill="#ff6414"/>
<rect x="770.3" y="461.6" width="26.1" height="14.4" fill="#ff0000"/>
<path d="M796.4,461.6L823.5,468.8L796.4,476.0Z" fill="#c80a0a"/>
</g>
<rect x="434.5" y="438" width="1" height="1" fill="#444"/>
</svg>
<div id="tx">
<div class="t s" style="left:54.5px;top:77.5px">Recurring Rossby Wave Train : consonantchaos.com</div>
<div class="t s" style="left:769.3px;top:77.5px;font-size:13px">Frequency : 20 54 342</div>
<div class="t w" style="top:385.9px;font-size:19.5px"><span style="left:131.4px;letter-spacing:0.96px">Surface</span> <span style="left:215.0px;letter-spacing:1.21px">Lifted</span> <span style="left:277.9px;letter-spacing:0.99px">Index</span> <span style="left:341.6px;letter-spacing:1.02px">(K)</span> <span style="left:382.2px;letter-spacing:0.67px">Composite</span> <span style="left:492.4px;letter-spacing:0.58px">Anomaly</span> <span style="left:583.9px;letter-spacing:1.99px">(1991&#8722;2020</span> <span style="left:718.0px;letter-spacing:0.89px">Climatology)</span></div>
<div class="t w" style="top:406.0px;font-size:19.5px"><span style="left:151.1px;letter-spacing:0.57px">Initialized:</span> <span style="left:257.5px;letter-spacing:1.41px">20250704</span> <span style="left:366.7px;transform:scaleX(0.884);transform-origin:0 50%">(RRWT</span> <span style="left:436.8px;letter-spacing:1.49px">0610d)</span> <span style="left:515.6px;letter-spacing:0.80px">Valid:</span> <span style="left:579.5px;letter-spacing:1.31px">20250710</span> <span style="left:690.0px;letter-spacing:1.08px">to</span> <span style="left:719.0px;letter-spacing:1.57px">20250714</span></div>
<div class="t w" style="top:96.7px;font-size:14.8px"><span style="left:626.2px;transform:scaleX(0.958);transform-origin:0 50%">NOAA</span> <span style="left:676.5px;letter-spacing:1.20px">Physical</span> <span style="left:750.1px;letter-spacing:1.20px">Sciences</span> <span style="left:827.9px;letter-spacing:1.64px">Laboratory</span></div>
<div class="t w" style="top:442.9px;font-size:14.0px"><span style="left:398.2px;letter-spacing:0.37px">NCEP/NCAR</span> <span style="left:492.9px;letter-spacing:0.69px">Reanalysis</span></div>
<div class="t y" style="top:85.7px"><span style="display:inline-block;transform:scaleX(.82);transform-origin:100% 50%">EQ</span></div>
<div class="t y" style="top:114.7px">10S</div>
<div class="t y" style="top:143.8px">20S</div>
<div class="t y" style="top:172.8px">30S</div>
<div class="t y" style="top:201.8px">40S</div>
<div class="t y" style="top:230.9px">50S</div>
<div class="t y" style="top:259.9px">60S</div>
<div class="t y" style="top:288.9px">70S</div>
<div class="t y" style="top:318.0px">80S</div>
<div class="t y" style="top:347.0px">90S</div>
<div class="t x" style="left:19.0px;top:361.0px">0</div>
<div class="t x" style="left:164.0px;top:361.0px">60E</div>
<div class="t x" style="left:309.0px;top:361.0px">120E</div>
<div class="t x" style="left:454.0px;top:361.0px">180</div>
<div class="t x" style="left:599.0px;top:361.0px">120W</div>
<div class="t x" style="left:744.0px;top:361.0px">60W</div>
<div class="t x" style="left:889.0px;top:361.0px">0</div>
<div class="t c" style="left:147.5px;top:479.7px">&#8722;6</div>
<div class="t c" style="left:199.7px;top:479.7px">&#8722;5</div>
<div class="t c" style="left:251.9px;top:479.7px">&#8722;4</div>
<div class="t c" style="left:304.1px;top:479.7px">&#8722;3</div>
<div class="t c" style="left:356.3px;top:479.7px">&#8722;2</div>
<div class="t c" style="left:408.5px;top:479.7px">&#8722;1</div>
<div class="t c" style="left:464.2px;top:479.7px">0</div>
<div class="t c" style="left:516.4px;top:479.7px">1</div>
<div class="t c" style="left:568.6px;top:479.7px">2</div>
<div class="t c" style="left:620.8px;top:479.7px">3</div>
<div class="t c" style="left:673.0px;top:479.7px">4</div>
<div class="t c" style="left:725.2px;top:479.7px">5</div>
<div class="t c" style="left:777.4px;top:479.7px">6</div>
</div>
</body></html>
